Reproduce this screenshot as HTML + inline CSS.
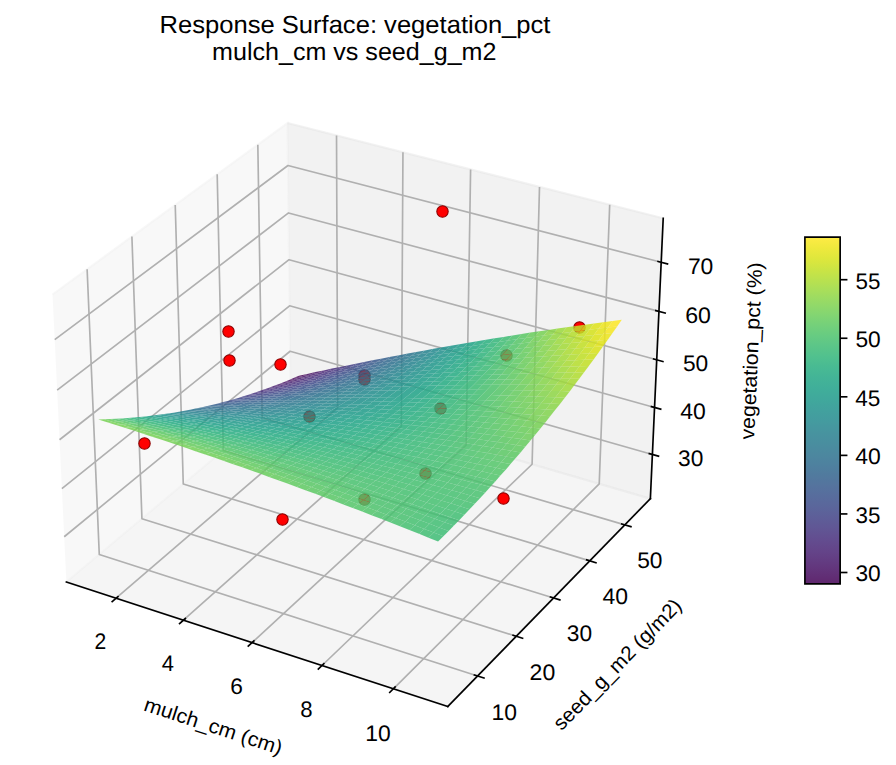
<!DOCTYPE html><html><head><meta charset="utf-8"><style>html,body{margin:0;padding:0;background:#fff;overflow:hidden}svg{display:block;text-rendering:geometricPrecision}</style></head><body><svg width="896" height="765" viewBox="0 0 430.08 367.2" version="1.1"> <defs> <style type="text/css">*{stroke-linejoin: round; stroke-linecap: butt}</style> </defs> <g> <g> <path d="M 0 367.2  L 430.08 367.2  L 430.08 0  L 0 0  z " style="fill: #ffffff"/> </g> <g> <path d="M 7.2576 359.7216  L 333.1488 359.7216  L 333.1488 33.8304  L 7.2576 33.8304  z " style="fill: #ffffff"/> </g> <g> <g> <path d="M 31.864633 279.367274  L 139.48455 189.158125  L 137.98853 59.060407  L 25.218445 141.354879  " style="fill: #f2f2f2; fill-opacity: 0.5; stroke-opacity: 0.5; stroke: #f2f2f2; stroke-linejoin: miter"/> </g> </g> <g> <g> <path d="M 139.48455 189.158125  L 312.176119 239.352746  L 318.338872 104.773961  L 137.98853 59.060407  " style="fill: #e6e6e6; fill-opacity: 0.5; stroke-opacity: 0.5; stroke: #e6e6e6; stroke-linejoin: miter"/> </g> </g> <g> <g> <path d="M 31.864633 279.367274  L 214.92613 339.155159  L 312.176119 239.352746  L 139.48455 189.158125  " style="fill: #ececec; fill-opacity: 0.5; stroke-opacity: 0.5; stroke: #ececec; stroke-linejoin: miter"/> </g> </g> <g> <g> <path d="M 55.712233 287.1559  L 162.067776 195.722177  L 161.530065 65.027499  " style="fill: none; stroke: #b0b0b0; stroke-width: 0.8"/> <path d="M 88.037407 297.713302  L 192.637596 204.607617  L 193.417799 73.110111  " style="fill: none; stroke: #b0b0b0; stroke-width: 0.8"/> <path d="M 120.982354 308.473122  L 223.744487 213.649162  L 225.890223 81.340923  " style="fill: none; stroke: #b0b0b0; stroke-width: 0.8"/> <path d="M 154.565073 319.441237  L 255.402728 222.850963  L 258.963565 89.724051  " style="fill: none; stroke: #b0b0b0; stroke-width: 0.8"/> <path d="M 188.804263 330.623757  L 287.627108 232.217318  L 292.654662 98.263762  " style="fill: none; stroke: #b0b0b0; stroke-width: 0.8"/> </g> </g> <g> <g> <path d="M 41.8174 129.241717  L 47.654292 266.132069  L 229.248182 324.45721  " style="fill: none; stroke: #b0b0b0; stroke-width: 0.8"/> <path d="M 63.312453 113.555607  L 68.127546 248.970982  L 247.790854 305.427867  " style="fill: none; stroke: #b0b0b0; stroke-width: 0.8"/> <path d="M 84.112015 98.377034  L 87.966586 232.341504  L 265.729405 287.018501  " style="fill: none; stroke: #b0b0b0; stroke-width: 0.8"/> <path d="M 104.249305 83.681757  L 107.200434 216.219312  L 283.092885 269.199298  " style="fill: none; stroke: #b0b0b0; stroke-width: 0.8"/> <path d="M 123.755458 69.447055  L 125.856365 200.58154  L 299.908512 251.942329  " style="fill: none; stroke: #b0b0b0; stroke-width: 0.8"/> </g> </g> <g> <g> <path d="M 313.147833 218.132981  L 139.248245 168.608411  L 30.81818 257.637001  " style="fill: none; stroke: #b0b0b0; stroke-width: 0.8"/> <path d="M 314.180158 195.589646  L 138.997373 146.791913  L 29.705846 234.538662  " style="fill: none; stroke: #b0b0b0; stroke-width: 0.8"/> <path d="M 315.227983 172.707829  L 138.742915 124.663626  L 28.576168 211.080164  " style="fill: none; stroke: #b0b0b0; stroke-width: 0.8"/> <path d="M 316.29166 149.479849  L 138.484795 102.216818  L 27.428737 187.253019  " style="fill: none; stroke: #b0b0b0; stroke-width: 0.8"/> <path d="M 317.371551 125.897791  L 138.222932 79.444561  L 26.263132 163.048467  " style="fill: none; stroke: #b0b0b0; stroke-width: 0.8"/> </g> </g> <g> <g> <path d="M 31.864633 279.367274  L 214.92613 339.155159  " style="fill: none; stroke: #000000; stroke-width: 0.8; stroke-linecap: square"/> </g> <g> <g> <path d="M 56.638654 286.359457  L 53.855401 288.752217  " style="fill: none; stroke: #000000; stroke-width: 0.8; stroke-linecap: square"/> </g> <g transform="translate(0.000 0.912)"> <text textLength="5.65" lengthAdjust="spacingAndGlyphs" style="font-size: 10.800px; font-family: 'Liberation Sans'; text-anchor: middle" x="48.198772" y="310.526284" transform="rotate(-0 48.198772 310.526284)">2</text> </g> </g> <g> <g> <path d="M 88.949243 296.901667  L 86.209769 299.3401  " style="fill: none; stroke: #000000; stroke-width: 0.8; stroke-linecap: square"/> </g> <g transform="translate(0.000 0.912)"> <text textLength="5.86" lengthAdjust="spacingAndGlyphs" style="font-size: 10.800px; font-family: 'Liberation Sans'; text-anchor: middle" x="80.551742" y="321.26636" transform="rotate(-0 80.551742 321.26636)">4</text> </g> </g> <g> <g> <path d="M 121.878873 307.645857  L 119.18538 310.131283  " style="fill: none; stroke: #000000; stroke-width: 0.8; stroke-linecap: square"/> </g> <g transform="translate(0.000 0.912)"> <text textLength="6.07" lengthAdjust="spacingAndGlyphs" style="font-size: 10.800px; font-family: 'Liberation Sans'; text-anchor: middle" x="113.526944" y="332.212995" transform="rotate(-0 113.526944 332.212995)">6</text> </g> </g> <g> <g> <path d="M 155.445509 318.597886  L 152.800298 321.131678  " style="fill: none; stroke: #000000; stroke-width: 0.8; stroke-linecap: square"/> </g> <g transform="translate(0.000 0.912)"> <text textLength="5.93" lengthAdjust="spacingAndGlyphs" style="font-size: 10.800px; font-family: 'Liberation Sans'; text-anchor: middle" x="147.142503" y="343.372208" transform="rotate(-0 147.142503 343.372208)">8</text> </g> </g> <g> <g> <path d="M 189.667813 329.763845  L 187.073297 332.347429  " style="fill: none; stroke: #000000; stroke-width: 0.8; stroke-linecap: square"/> </g> <g transform="translate(0.000 0.912)"> <text textLength="12.23" lengthAdjust="spacingAndGlyphs" style="font-size: 10.800px; font-family: 'Liberation Sans'; text-anchor: middle" x="181.417255" y="354.750249" transform="rotate(-0 181.417255 354.750249)">10</text> </g> </g> <g transform="translate(0.000 0.000)"> <text textLength="69.15" lengthAdjust="spacingAndGlyphs" style="font-size: 9.720px; font-family: 'Liberation Sans'; text-anchor: middle" x="101.360393" y="351.6125" transform="rotate(-341.912962 101.360393 351.6125)">mulch_cm (cm)</text> </g> </g> <g> <g> <path d="M 312.176119 239.352746  L 214.92613 339.155159  " style="fill: none; stroke: #000000; stroke-width: 0.8; stroke-linecap: square"/> </g> <g> <g> <path d="M 227.718407 323.96587  L 232.311661 325.441153  " style="fill: none; stroke: #000000; stroke-width: 0.8; stroke-linecap: square"/> </g> <g transform="translate(0.000 0.432)"> <text textLength="12.23" lengthAdjust="spacingAndGlyphs" style="font-size: 10.800px; font-family: 'Liberation Sans'; text-anchor: middle" x="242.044299" y="345.383236" transform="rotate(-0 242.044299 345.383236)">10</text> </g> </g> <g> <g> <path d="M 246.278604 304.952662  L 250.819174 306.379478  " style="fill: none; stroke: #000000; stroke-width: 0.8; stroke-linecap: square"/> </g> <g transform="translate(0.000 0.432)"> <text textLength="12.32" lengthAdjust="spacingAndGlyphs" style="font-size: 10.800px; font-family: 'Liberation Sans'; text-anchor: middle" x="260.383824" y="326.123999" transform="rotate(-0 260.383824 326.123999)">20</text> </g> </g> <g> <g> <path d="M 264.234359 286.558649  L 268.723212 287.939348  " style="fill: none; stroke: #000000; stroke-width: 0.8; stroke-linecap: square"/> </g> <g transform="translate(0.000 0.432)"> <text textLength="12.14" lengthAdjust="spacingAndGlyphs" style="font-size: 10.800px; font-family: 'Liberation Sans'; text-anchor: middle" x="278.125566" y="307.492522" transform="rotate(-0 278.125566 307.492522)">30</text> </g> </g> <g> <g> <path d="M 281.614726 268.754067  L 286.052818 270.09085  " style="fill: none; stroke: #000000; stroke-width: 0.8; stroke-linecap: square"/> </g> <g transform="translate(0.000 0.432)"> <text textLength="12.26" lengthAdjust="spacingAndGlyphs" style="font-size: 10.800px; font-family: 'Liberation Sans'; text-anchor: middle" x="295.298283" y="289.458606" transform="rotate(-0 295.298283 289.458606)">40</text> </g> </g> <g> <g> <path d="M 298.446927 251.511032  L 302.8352 252.805961  " style="fill: none; stroke: #000000; stroke-width: 0.8; stroke-linecap: square"/> </g> <g transform="translate(0.000 0.432)"> <text textLength="12.15" lengthAdjust="spacingAndGlyphs" style="font-size: 10.800px; font-family: 'Liberation Sans'; text-anchor: middle" x="311.92892" y="271.993957" transform="rotate(-0 311.92892 271.993957)">50</text> </g> </g> <g transform="translate(0.000 0.000)"> <text textLength="83.44" lengthAdjust="spacingAndGlyphs" style="font-size: 9.720px; font-family: 'Liberation Sans'; text-anchor: middle" x="298.700666" y="321.156411" transform="rotate(-45.742112 298.700666 321.156411)">seed_g_m2 (g/m2)</text> </g> </g> <g> <g> <path d="M 312.176119 239.352746  L 318.338872 104.773961  " style="fill: none; stroke: #000000; stroke-width: 0.8; stroke-linecap: square"/> </g> <g> <g> <path d="M 311.687855 217.717196  L 316.071288 218.965546  " style="fill: none; stroke: #000000; stroke-width: 0.8; stroke-linecap: square"/> </g> <g transform="translate(0.000 0.408)"> <text textLength="12.14" lengthAdjust="spacingAndGlyphs" style="font-size: 10.800px; font-family: 'Liberation Sans'; text-anchor: middle" x="331.532769" y="223.158968" transform="rotate(-0 331.532769 223.158968)">30</text> </g> </g> <g> <g> <path d="M 312.70889 195.179819  L 317.126244 196.410287  " style="fill: none; stroke: #000000; stroke-width: 0.8; stroke-linecap: square"/> </g> <g transform="translate(0.000 0.408)"> <text textLength="12.26" lengthAdjust="spacingAndGlyphs" style="font-size: 10.800px; font-family: 'Liberation Sans'; text-anchor: middle" x="332.699182" y="200.652537" transform="rotate(-0 332.699182 200.652537)">40</text> </g> </g> <g> <g> <path d="M 313.74525 172.304187  L 318.197054 173.516093  " style="fill: none; stroke: #000000; stroke-width: 0.8; stroke-linecap: square"/> </g> <g transform="translate(0.000 0.408)"> <text textLength="12.15" lengthAdjust="spacingAndGlyphs" style="font-size: 10.800px; font-family: 'Liberation Sans'; text-anchor: middle" x="333.883064" y="177.809024" transform="rotate(-0 333.883064 177.809024)">50</text> </g> </g> <g> <g> <path d="M 314.797282 149.082627  L 319.284076 150.275266  " style="fill: none; stroke: #000000; stroke-width: 0.8; stroke-linecap: square"/> </g> <g transform="translate(0.000 0.408)"> <text textLength="12.36" lengthAdjust="spacingAndGlyphs" style="font-size: 10.800px; font-family: 'Liberation Sans'; text-anchor: middle" x="335.084811" y="154.620799" transform="rotate(-0 335.084811 154.620799)">60</text> </g> </g> <g> <g> <path d="M 315.865344 125.507232  L 320.387681 126.679873  " style="fill: none; stroke: #000000; stroke-width: 0.8; stroke-linecap: square"/> </g> <g transform="translate(0.000 0.408)"> <text textLength="12.23" lengthAdjust="spacingAndGlyphs" style="font-size: 10.800px; font-family: 'Liberation Sans'; text-anchor: middle" x="336.30483" y="131.080001" transform="rotate(-0 336.30483 131.080001)">70</text> </g> </g> <g transform="translate(-0.480 1.200)"> <text textLength="85.15" lengthAdjust="spacingAndGlyphs" style="font-size: 9.720px; font-family: 'Liberation Sans'; text-anchor: middle" x="364.398143" y="167.36839" transform="rotate(-87.378092 364.398143 167.36839)">vegetation_pct (%)</text> </g> </g> <g transform="scale(0.48)"><g fill="#ff0000" stroke="#8b0000" stroke-width="1.04"><circle cx="442.5" cy="211.5" r="5.71"/><circle cx="228.5" cy="331.5" r="5.71"/><circle cx="229.5" cy="360.5" r="5.71"/><circle cx="280.5" cy="364.5" r="5.71"/><circle cx="579.5" cy="327.5" r="5.71"/><circle cx="144.5" cy="443.5" r="5.71"/><circle cx="282.5" cy="519.5" r="5.71"/><circle cx="503.5" cy="498.5" r="5.71"/><circle cx="364.5" cy="375.5" r="5.71"/><circle cx="364.5" cy="379.5" r="5.71"/><circle cx="309.5" cy="416.5" r="5.71"/><circle cx="440.5" cy="408.5" r="5.71"/><circle cx="506.5" cy="355.5" r="5.71"/><circle cx="425.5" cy="473.5" r="5.71"/><circle cx="364.5" cy="499.5" r="5.71"/></g><g fill-opacity="0.85"><path d="M294.1 377.8 299.0 375.7 307.2 373.9 302.3 376.2z" fill="#440154"/><path d="M302.3 376.2 307.2 373.9 315.4 372.1 310.5 374.5z" fill="#470d60"/><path d="M289.1 379.9 294.1 377.8 302.3 376.2 297.3 378.3z" fill="#46075a"/><path d="M310.5 374.5 315.4 372.1 323.6 370.4 318.7 372.8z" fill="#481769"/><path d="M297.3 378.3 302.3 376.2 310.5 374.5 305.5 376.8z" fill="#471164"/><path d="M284.1 381.9 289.1 379.9 297.3 378.3 292.3 380.5z" fill="#460b5e"/><path d="M318.7 372.8 323.6 370.4 331.9 368.6 327.0 371.2z" fill="#482173"/><path d="M305.5 376.8 310.5 374.5 318.7 372.8 313.8 375.3z" fill="#481c6e"/><path d="M292.3 380.5 297.3 378.3 305.5 376.8 300.6 379.1z" fill="#481769"/><path d="M279.1 383.9 284.1 381.9 292.3 380.5 287.3 382.6z" fill="#471164"/><path d="M327.0 371.2 331.9 368.6 340.2 366.9 335.3 369.6z" fill="#472c7a"/><path d="M313.8 375.3 318.7 372.8 327.0 371.2 322.1 373.8z" fill="#482576"/><path d="M300.6 379.1 305.5 376.8 313.8 375.3 308.9 377.6z" fill="#482071"/><path d="M287.3 382.6 292.3 380.5 300.6 379.1 295.6 381.3z" fill="#481b6d"/><path d="M335.3 369.6 340.2 366.9 348.5 365.2 343.7 368.0z" fill="#463480"/><path d="M274.1 385.8 279.1 383.9 287.3 382.6 282.3 384.6z" fill="#481769"/><path d="M322.1 373.8 327.0 371.2 335.3 369.6 330.4 372.3z" fill="#472f7d"/><path d="M308.9 377.6 313.8 375.3 322.1 373.8 317.2 376.2z" fill="#482979"/><path d="M295.6 381.3 300.6 379.1 308.9 377.6 303.9 380.0z" fill="#482576"/><path d="M343.7 368.0 348.5 365.2 356.9 363.5 352.0 366.4z" fill="#433e85"/><path d="M282.3 384.6 287.3 382.6 295.6 381.3 290.6 383.4z" fill="#482071"/><path d="M330.4 372.3 335.3 369.6 343.7 368.0 338.8 370.8z" fill="#453882"/><path d="M269.0 387.7 274.1 385.8 282.3 384.6 277.3 386.6z" fill="#481d6f"/><path d="M317.2 376.2 322.1 373.8 330.4 372.3 325.5 374.9z" fill="#46337f"/><path d="M303.9 380.0 308.9 377.6 317.2 376.2 312.2 378.7z" fill="#472e7c"/><path d="M352.0 366.4 356.9 363.5 365.3 361.8 360.4 364.8z" fill="#3f4788"/><path d="M290.6 383.4 295.6 381.3 303.9 380.0 298.9 382.2z" fill="#482979"/><path d="M338.8 370.8 343.7 368.0 352.0 366.4 347.1 369.3z" fill="#424086"/><path d="M277.3 386.6 282.3 384.6 290.6 383.4 285.6 385.5z" fill="#482576"/><path d="M325.5 374.9 330.4 372.3 338.8 370.8 333.8 373.5z" fill="#443b84"/><path d="M312.2 378.7 317.2 376.2 325.5 374.9 320.5 377.4z" fill="#453781"/><path d="M263.9 389.5 269.0 387.7 277.3 386.6 272.2 388.6z" fill="#482374"/><path d="M360.4 364.8 365.3 361.8 373.7 360.1 368.9 363.3z" fill="#3c4f8a"/><path d="M298.9 382.2 303.9 380.0 312.2 378.7 307.2 381.1z" fill="#46327e"/><path d="M347.1 369.3 352.0 366.4 360.4 364.8 355.6 367.8z" fill="#3e4989"/><path d="M285.6 385.5 290.6 383.4 298.9 382.2 293.9 384.5z" fill="#472e7c"/><path d="M333.8 373.5 338.8 370.8 347.1 369.3 342.2 372.1z" fill="#414487"/><path d="M320.5 377.4 325.5 374.9 333.8 373.5 328.9 376.2z" fill="#423f85"/><path d="M272.2 388.6 277.3 386.6 285.6 385.5 280.5 387.6z" fill="#472a7a"/><path d="M368.9 363.3 373.7 360.1 382.2 358.4 377.3 361.7z" fill="#38588c"/><path d="M307.2 381.1 312.2 378.7 320.5 377.4 315.6 379.9z" fill="#443a83"/><path d="M258.8 391.3 263.9 389.5 272.2 388.6 267.1 390.5z" fill="#482878"/><path d="M355.6 367.8 360.4 364.8 368.9 363.3 364.0 366.4z" fill="#3b518b"/><path d="M293.9 384.5 298.9 382.2 307.2 381.1 302.2 383.4z" fill="#453781"/><path d="M342.2 372.1 347.1 369.3 355.6 367.8 350.7 370.8z" fill="#3e4c8a"/><path d="M280.5 387.6 285.6 385.5 293.9 384.5 288.8 386.7z" fill="#46337f"/><path d="M328.9 376.2 333.8 373.5 342.2 372.1 337.3 374.9z" fill="#3f4788"/><path d="M377.3 361.7 382.2 358.4 390.6 356.8 385.8 360.2z" fill="#355f8d"/><path d="M315.6 379.9 320.5 377.4 328.9 376.2 323.9 378.8z" fill="#414287"/><path d="M267.1 390.5 272.2 388.6 280.5 387.6 275.4 389.6z" fill="#472f7d"/><path d="M364.0 366.4 368.9 363.3 377.3 361.7 372.5 365.0z" fill="#38598c"/><path d="M302.2 383.4 307.2 381.1 315.6 379.9 310.6 382.4z" fill="#433e85"/><path d="M350.7 370.8 355.6 367.8 364.0 366.4 359.1 369.5z" fill="#3a538b"/><path d="M253.7 393.0 258.8 391.3 267.1 390.5 262.0 392.3z" fill="#472e7c"/><path d="M288.8 386.7 293.9 384.5 302.2 383.4 297.2 385.7z" fill="#443a83"/><path d="M337.3 374.9 342.2 372.1 350.7 370.8 345.7 373.7z" fill="#3c4f8a"/><path d="M323.9 378.8 328.9 376.2 337.3 374.9 332.3 377.7z" fill="#3e4989"/><path d="M385.8 360.2 390.6 356.8 399.1 355.2 394.3 358.7z" fill="#31668e"/><path d="M275.4 389.6 280.5 387.6 288.8 386.7 283.7 388.8z" fill="#453882"/><path d="M372.5 365.0 377.3 361.7 385.8 360.2 380.9 363.6z" fill="#34618d"/><path d="M310.6 382.4 315.6 379.9 323.9 378.8 319.0 381.4z" fill="#404688"/><path d="M262.0 392.3 267.1 390.5 275.4 389.6 270.3 391.6z" fill="#453581"/><path d="M359.1 369.5 364.0 366.4 372.5 365.0 367.6 368.2z" fill="#375b8d"/><path d="M297.2 385.7 302.2 383.4 310.6 382.4 305.5 384.8z" fill="#414287"/><path d="M345.7 373.7 350.7 370.8 359.1 369.5 354.2 372.5z" fill="#39558c"/><path d="M248.5 394.7 253.7 393.0 262.0 392.3 256.8 394.1z" fill="#46337f"/><path d="M332.3 377.7 337.3 374.9 345.7 373.7 340.8 376.6z" fill="#3b518b"/><path d="M283.7 388.8 288.8 386.7 297.2 385.7 292.1 388.0z" fill="#423f85"/><path d="M394.3 358.7 399.1 355.2 407.7 353.6 402.9 357.2z" fill="#2e6e8e"/><path d="M380.9 363.6 385.8 360.2 394.3 358.7 389.5 362.2z" fill="#31688e"/><path d="M319.0 381.4 323.9 378.8 332.3 377.7 327.4 380.4z" fill="#3d4d8a"/><path d="M270.3 391.6 275.4 389.6 283.7 388.8 278.7 390.9z" fill="#433d84"/><path d="M367.6 368.2 372.5 365.0 380.9 363.6 376.1 366.9z" fill="#33628d"/><path d="M305.5 384.8 310.6 382.4 319.0 381.4 313.9 383.9z" fill="#3e4989"/><path d="M354.2 372.5 359.1 369.5 367.6 368.2 362.7 371.4z" fill="#365d8d"/><path d="M256.8 394.1 262.0 392.3 270.3 391.6 265.2 393.5z" fill="#443a83"/><path d="M292.1 388.0 297.2 385.7 305.5 384.8 300.5 387.2z" fill="#404688"/><path d="M340.8 376.6 345.7 373.7 354.2 372.5 349.3 375.5z" fill="#38598c"/><path d="M402.9 357.2 407.7 353.6 416.2 352.0 411.4 355.7z" fill="#2b748e"/><path d="M243.4 396.3 248.5 394.7 256.8 394.1 251.7 395.8z" fill="#443983"/><path d="M389.5 362.2 394.3 358.7 402.9 357.2 398.0 360.8z" fill="#2e6f8e"/><path d="M327.4 380.4 332.3 377.7 340.8 376.6 335.8 379.4z" fill="#3a548c"/><path d="M278.7 390.9 283.7 388.8 292.1 388.0 287.0 390.2z" fill="#414487"/><path d="M376.1 366.9 380.9 363.6 389.5 362.2 384.6 365.6z" fill="#30698e"/><path d="M313.9 383.9 319.0 381.4 327.4 380.4 322.4 383.1z" fill="#3c508b"/><path d="M362.7 371.4 367.6 368.2 376.1 366.9 371.2 370.2z" fill="#32648e"/><path d="M265.2 393.5 270.3 391.6 278.7 390.9 273.5 392.9z" fill="#424186"/><path d="M300.5 387.2 305.5 384.8 313.9 383.9 308.9 386.4z" fill="#3d4d8a"/><path d="M349.3 375.5 354.2 372.5 362.7 371.4 357.8 374.5z" fill="#355f8d"/><path d="M411.4 355.7 416.2 352.0 424.8 350.4 420.0 354.3z" fill="#297b8e"/><path d="M251.7 395.8 256.8 394.1 265.2 393.5 260.0 395.4z" fill="#424086"/><path d="M335.8 379.4 340.8 376.6 349.3 375.5 344.3 378.5z" fill="#375b8d"/><path d="M398.0 360.8 402.9 357.2 411.4 355.7 406.6 359.5z" fill="#2b758e"/><path d="M287.0 390.2 292.1 388.0 300.5 387.2 295.4 389.5z" fill="#3e4a89"/><path d="M384.6 365.6 389.5 362.2 398.0 360.8 393.2 364.4z" fill="#2d708e"/><path d="M322.4 383.1 327.4 380.4 335.8 379.4 330.8 382.2z" fill="#39568c"/><path d="M238.2 397.9 243.4 396.3 251.7 395.8 246.5 397.5z" fill="#423f85"/><path d="M273.5 392.9 278.7 390.9 287.0 390.2 281.9 392.3z" fill="#3f4889"/><path d="M371.2 370.2 376.1 366.9 384.6 365.6 379.7 369.0z" fill="#2f6b8e"/><path d="M308.9 386.4 313.9 383.9 322.4 383.1 317.4 385.7z" fill="#3a538b"/><path d="M357.8 374.5 362.7 371.4 371.2 370.2 366.3 373.4z" fill="#31668e"/><path d="M260.0 395.4 265.2 393.5 273.5 392.9 268.4 394.9z" fill="#404688"/><path d="M420.0 354.3 424.8 350.4 433.5 348.8 428.7 352.8z" fill="#26828e"/><path d="M344.3 378.5 349.3 375.5 357.8 374.5 352.8 377.5z" fill="#34618d"/><path d="M295.4 389.5 300.5 387.2 308.9 386.4 303.9 388.9z" fill="#3b518b"/><path d="M406.6 359.5 411.4 355.7 420.0 354.3 415.2 358.1z" fill="#287c8e"/><path d="M393.2 364.4 398.0 360.8 406.6 359.5 401.8 363.2z" fill="#2a768e"/><path d="M330.8 382.2 335.8 379.4 344.3 378.5 339.3 381.4z" fill="#355e8d"/><path d="M246.5 397.5 251.7 395.8 260.0 395.4 254.8 397.2z" fill="#404588"/><path d="M281.9 392.3 287.0 390.2 295.4 389.5 290.3 391.8z" fill="#3d4e8a"/><path d="M379.7 369.0 384.6 365.6 393.2 364.4 388.3 367.9z" fill="#2d718e"/><path d="M317.4 385.7 322.4 383.1 330.8 382.2 325.8 384.9z" fill="#375a8c"/><path d="M366.3 373.4 371.2 370.2 379.7 369.0 374.8 372.4z" fill="#2f6c8e"/><path d="M232.9 399.4 238.2 397.9 246.5 397.5 241.3 399.2z" fill="#404588"/><path d="M268.4 394.9 273.5 392.9 281.9 392.3 276.8 394.4z" fill="#3d4d8a"/><path d="M428.7 352.8 433.5 348.8 442.1 347.3 437.4 351.4z" fill="#23898e"/><path d="M352.8 377.5 357.8 374.5 366.3 373.4 361.3 376.6z" fill="#31688e"/><path d="M303.9 388.9 308.9 386.4 317.4 385.7 312.3 388.2z" fill="#39568c"/><path d="M415.2 358.1 420.0 354.3 428.7 352.8 423.9 356.8z" fill="#26828e"/><path d="M401.8 363.2 406.6 359.5 415.2 358.1 410.4 361.9z" fill="#287d8e"/><path d="M254.8 397.2 260.0 395.4 268.4 394.9 263.2 396.8z" fill="#3e4c8a"/><path d="M339.3 381.4 344.3 378.5 352.8 377.5 347.8 380.5z" fill="#32648e"/><path d="M290.3 391.8 295.4 389.5 303.9 388.9 298.8 391.3z" fill="#3a548c"/><path d="M388.3 367.9 393.2 364.4 401.8 363.2 396.9 366.8z" fill="#2a778e"/><path d="M325.8 384.9 330.8 382.2 339.3 381.4 334.3 384.2z" fill="#34608d"/><path d="M374.8 372.4 379.7 369.0 388.3 367.9 383.4 371.4z" fill="#2c728e"/><path d="M241.3 399.2 246.5 397.5 254.8 397.2 249.6 398.9z" fill="#3e4a89"/><path d="M276.8 394.4 281.9 392.3 290.3 391.8 285.2 394.0z" fill="#3b528b"/><path d="M437.4 351.4 442.1 347.3 450.8 345.7 446.0 350.0z" fill="#21908d"/><path d="M312.3 388.2 317.4 385.7 325.8 384.9 320.8 387.6z" fill="#365d8d"/><path d="M361.3 376.6 366.3 373.4 374.8 372.4 369.9 375.7z" fill="#2e6e8e"/><path d="M423.9 356.8 428.7 352.8 437.4 351.4 432.6 355.5z" fill="#23898e"/><path d="M263.2 396.8 268.4 394.9 276.8 394.4 271.6 396.5z" fill="#3b518b"/><path d="M227.7 400.9 232.9 399.4 241.3 399.2 236.0 400.8z" fill="#3e4a89"/><path d="M347.8 380.5 352.8 377.5 361.3 376.6 356.4 379.8z" fill="#306a8e"/><path d="M410.4 361.9 415.2 358.1 423.9 356.8 419.1 360.7z" fill="#25838e"/><path d="M298.8 391.3 303.9 388.9 312.3 388.2 307.2 390.7z" fill="#375b8d"/><path d="M396.9 366.8 401.8 363.2 410.4 361.9 405.5 365.7z" fill="#277e8e"/><path d="M334.3 384.2 339.3 381.4 347.8 380.5 342.9 383.5z" fill="#31668e"/><path d="M249.6 398.9 254.8 397.2 263.2 396.8 258.0 398.7z" fill="#3c508b"/><path d="M383.4 371.4 388.3 367.9 396.9 366.8 392.0 370.4z" fill="#2a788e"/><path d="M285.2 394.0 290.3 391.8 298.8 391.3 293.7 393.6z" fill="#38598c"/><path d="M320.8 387.6 325.8 384.9 334.3 384.2 329.3 387.0z" fill="#33638d"/><path d="M369.9 375.7 374.8 372.4 383.4 371.4 378.5 374.8z" fill="#2c738e"/><path d="M446.0 350.0 450.8 345.7 459.5 344.2 454.8 348.6z" fill="#1f968b"/><path d="M432.6 355.5 437.4 351.4 446.0 350.0 441.3 354.2z" fill="#21908d"/><path d="M236.0 400.8 241.3 399.2 249.6 398.9 244.4 400.6z" fill="#3c508b"/><path d="M271.6 396.5 276.8 394.4 285.2 394.0 280.1 396.2z" fill="#39568c"/><path d="M356.4 379.8 361.3 376.6 369.9 375.7 365.0 379.0z" fill="#2d708e"/><path d="M307.2 390.7 312.3 388.2 320.8 387.6 315.7 390.2z" fill="#34608d"/><path d="M419.1 360.7 423.9 356.8 432.6 355.5 427.7 359.6z" fill="#23898e"/><path d="M405.5 365.7 410.4 361.9 419.1 360.7 414.2 364.6z" fill="#25838e"/><path d="M342.9 383.5 347.8 380.5 356.4 379.8 351.4 382.8z" fill="#2f6c8e"/><path d="M258.0 398.7 263.2 396.8 271.6 396.5 266.5 398.5z" fill="#39558c"/><path d="M222.4 402.3 227.7 400.9 236.0 400.8 230.7 402.3z" fill="#3c508b"/><path d="M293.7 393.6 298.8 391.3 307.2 390.7 302.1 393.2z" fill="#355e8d"/><path d="M392.0 370.4 396.9 366.8 405.5 365.7 400.7 369.4z" fill="#277f8e"/><path d="M329.3 387.0 334.3 384.2 342.9 383.5 337.8 386.4z" fill="#30698e"/><path d="M378.5 374.8 383.4 371.4 392.0 370.4 387.1 374.0z" fill="#297a8e"/><path d="M454.8 348.6 459.5 344.2 468.3 342.7 463.5 347.2z" fill="#1e9d89"/><path d="M244.4 400.6 249.6 398.9 258.0 398.7 252.8 400.5z" fill="#39558c"/><path d="M280.1 396.2 285.2 394.0 293.7 393.6 288.5 395.9z" fill="#365c8d"/><path d="M441.3 354.2 446.0 350.0 454.8 348.6 450.0 352.9z" fill="#1f968b"/><path d="M365.0 379.0 369.9 375.7 378.5 374.8 373.6 378.2z" fill="#2b758e"/><path d="M315.7 390.2 320.8 387.6 329.3 387.0 324.3 389.8z" fill="#31668e"/><path d="M427.7 359.6 432.6 355.5 441.3 354.2 436.4 358.4z" fill="#21908d"/><path d="M414.2 364.6 419.1 360.7 427.7 359.6 422.9 363.6z" fill="#238a8d"/><path d="M351.4 382.8 356.4 379.8 365.0 379.0 360.0 382.2z" fill="#2c718e"/><path d="M266.5 398.5 271.6 396.5 280.1 396.2 274.9 398.3z" fill="#375b8d"/><path d="M230.7 402.3 236.0 400.8 244.4 400.6 239.1 402.3z" fill="#39558c"/><path d="M302.1 393.2 307.2 390.7 315.7 390.2 310.7 392.8z" fill="#33638d"/><path d="M400.7 369.4 405.5 365.7 414.2 364.6 409.3 368.5z" fill="#25848e"/><path d="M337.8 386.4 342.9 383.5 351.4 382.8 346.4 385.9z" fill="#2e6e8e"/><path d="M387.1 374.0 392.0 370.4 400.7 369.4 395.8 373.1z" fill="#27808e"/><path d="M252.8 400.5 258.0 398.7 266.5 398.5 261.2 400.4z" fill="#375b8d"/><path d="M288.5 395.9 293.7 393.6 302.1 393.2 297.0 395.6z" fill="#33628d"/><path d="M463.5 347.2 468.3 342.7 477.1 341.2 472.3 345.9z" fill="#20a386"/><path d="M217.0 403.7 222.4 402.3 230.7 402.3 225.4 403.8z" fill="#39558c"/><path d="M450.0 352.9 454.8 348.6 463.5 347.2 458.8 351.7z" fill="#1e9d89"/><path d="M324.3 389.8 329.3 387.0 337.8 386.4 332.8 389.3z" fill="#2f6b8e"/><path d="M373.6 378.2 378.5 374.8 387.1 374.0 382.2 377.5z" fill="#297b8e"/><path d="M436.4 358.4 441.3 354.2 450.0 352.9 445.2 357.3z" fill="#1f968b"/><path d="M274.9 398.3 280.1 396.2 288.5 395.9 283.4 398.1z" fill="#34608d"/><path d="M239.1 402.3 244.4 400.6 252.8 400.5 247.6 402.3z" fill="#375a8c"/><path d="M360.0 382.2 365.0 379.0 373.6 378.2 368.6 381.6z" fill="#2a778e"/><path d="M422.9 363.6 427.7 359.6 436.4 358.4 431.6 362.5z" fill="#21908d"/><path d="M310.7 392.8 315.7 390.2 324.3 389.8 319.2 392.5z" fill="#30698e"/><path d="M409.3 368.5 414.2 364.6 422.9 363.6 418.0 367.6z" fill="#238a8d"/><path d="M346.4 385.9 351.4 382.8 360.0 382.2 355.0 385.4z" fill="#2c738e"/><path d="M261.2 400.4 266.5 398.5 274.9 398.3 269.7 400.4z" fill="#355f8d"/><path d="M395.8 373.1 400.7 369.4 409.3 368.5 404.5 372.3z" fill="#25858e"/><path d="M297.0 395.6 302.1 393.2 310.7 392.8 305.6 395.4z" fill="#31678e"/><path d="M225.4 403.8 230.7 402.3 239.1 402.3 233.8 403.9z" fill="#375b8d"/><path d="M472.3 345.9 477.1 341.2 485.9 339.7 481.1 344.5z" fill="#24aa83"/><path d="M332.8 389.3 337.8 386.4 346.4 385.9 341.4 388.9z" fill="#2d718e"/><path d="M382.2 377.5 387.1 374.0 395.8 373.1 390.9 376.7z" fill="#26818e"/><path d="M458.8 351.7 463.5 347.2 472.3 345.9 467.6 350.5z" fill="#20a386"/><path d="M445.2 357.3 450.0 352.9 458.8 351.7 454.0 356.1z" fill="#1e9d89"/><path d="M283.4 398.1 288.5 395.9 297.0 395.6 291.9 398.0z" fill="#32658e"/><path d="M247.6 402.3 252.8 400.5 261.2 400.4 256.0 402.3z" fill="#355f8d"/><path d="M368.6 381.6 373.6 378.2 382.2 377.5 377.3 380.9z" fill="#287d8e"/><path d="M431.6 362.5 436.4 358.4 445.2 357.3 440.4 361.5z" fill="#1f968b"/><path d="M319.2 392.5 324.3 389.8 332.8 389.3 327.8 392.2z" fill="#2e6e8e"/><path d="M211.7 405.0 217.0 403.7 225.4 403.8 220.1 405.2z" fill="#365c8d"/><path d="M418.0 367.6 422.9 363.6 431.6 362.5 426.8 366.6z" fill="#21918c"/><path d="M355.0 385.4 360.0 382.2 368.6 381.6 363.6 384.8z" fill="#29798e"/><path d="M269.7 400.4 274.9 398.3 283.4 398.1 278.2 400.3z" fill="#32648e"/><path d="M305.6 395.4 310.7 392.8 319.2 392.5 314.1 395.1z" fill="#2f6c8e"/><path d="M233.8 403.9 239.1 402.3 247.6 402.3 242.3 404.0z" fill="#355f8d"/><path d="M404.5 372.3 409.3 368.5 418.0 367.6 413.2 371.5z" fill="#228b8d"/><path d="M341.4 388.9 346.4 385.9 355.0 385.4 350.0 388.5z" fill="#2b758e"/><path d="M481.1 344.5 485.9 339.7 494.7 338.3 490.0 343.2z" fill="#2ab07f"/><path d="M390.9 376.7 395.8 373.1 404.5 372.3 399.6 376.0z" fill="#24868e"/><path d="M467.6 350.5 472.3 345.9 481.1 344.5 476.4 349.2z" fill="#23a983"/><path d="M256.0 402.3 261.2 400.4 269.7 400.4 264.5 402.4z" fill="#32648e"/><path d="M291.9 398.0 297.0 395.6 305.6 395.4 300.4 397.9z" fill="#306a8e"/><path d="M454.0 356.1 458.8 351.7 467.6 350.5 462.8 355.0z" fill="#1fa287"/><path d="M377.3 380.9 382.2 377.5 390.9 376.7 385.9 380.3z" fill="#26828e"/><path d="M220.1 405.2 225.4 403.8 233.8 403.9 228.5 405.5z" fill="#34608d"/><path d="M327.8 392.2 332.8 389.3 341.4 388.9 336.3 391.9z" fill="#2c728e"/><path d="M440.4 361.5 445.2 357.3 454.0 356.1 449.2 360.5z" fill="#1e9c89"/><path d="M426.8 366.6 431.6 362.5 440.4 361.5 435.5 365.7z" fill="#1f968b"/><path d="M363.6 384.8 368.6 381.6 377.3 380.9 372.3 384.4z" fill="#277e8e"/><path d="M278.2 400.3 283.4 398.1 291.9 398.0 286.7 400.3z" fill="#30698e"/><path d="M242.3 404.0 247.6 402.3 256.0 402.3 250.8 404.2z" fill="#32648e"/><path d="M314.1 395.1 319.2 392.5 327.8 392.2 322.7 394.9z" fill="#2d718e"/><path d="M413.2 371.5 418.0 367.6 426.8 366.6 421.9 370.7z" fill="#21918c"/><path d="M206.3 406.3 211.7 405.0 220.1 405.2 214.7 406.6z" fill="#34618d"/><path d="M350.0 388.5 355.0 385.4 363.6 384.8 358.6 388.1z" fill="#297b8e"/><path d="M490.0 343.2 494.7 338.3 503.6 336.9 498.9 341.9z" fill="#34b679"/><path d="M399.6 376.0 404.5 372.3 413.2 371.5 408.3 375.4z" fill="#228c8d"/><path d="M264.5 402.4 269.7 400.4 278.2 400.3 273.0 402.5z" fill="#31688e"/><path d="M476.4 349.2 481.1 344.5 490.0 343.2 485.2 348.0z" fill="#29af7f"/><path d="M300.4 397.9 305.6 395.4 314.1 395.1 309.0 397.8z" fill="#2e6f8e"/><path d="M228.5 405.5 233.8 403.9 242.3 404.0 237.0 405.7z" fill="#32648e"/><path d="M462.8 355.0 467.6 350.5 476.4 349.2 471.6 353.9z" fill="#23a983"/><path d="M336.3 391.9 341.4 388.9 350.0 388.5 345.0 391.6z" fill="#2a788e"/><path d="M385.9 380.3 390.9 376.7 399.6 376.0 394.6 379.8z" fill="#24878e"/><path d="M449.2 360.5 454.0 356.1 462.8 355.0 458.0 359.5z" fill="#1fa287"/><path d="M286.7 400.3 291.9 398.0 300.4 397.9 295.3 400.3z" fill="#2e6e8e"/><path d="M435.5 365.7 440.4 361.5 449.2 360.5 444.3 364.9z" fill="#1e9c89"/><path d="M372.3 384.4 377.3 380.9 385.9 380.3 381.0 383.9z" fill="#25838e"/><path d="M250.8 404.2 256.0 402.3 264.5 402.4 259.2 404.4z" fill="#31688e"/><path d="M322.7 394.9 327.8 392.2 336.3 391.9 331.3 394.8z" fill="#2b758e"/><path d="M421.9 370.7 426.8 366.6 435.5 365.7 430.7 369.9z" fill="#1f968b"/><path d="M214.7 406.6 220.1 405.2 228.5 405.5 223.2 407.0z" fill="#32658e"/><path d="M358.6 388.1 363.6 384.8 372.3 384.4 367.3 387.7z" fill="#27808e"/><path d="M408.3 375.4 413.2 371.5 421.9 370.7 417.0 374.7z" fill="#20928c"/><path d="M273.0 402.5 278.2 400.3 286.7 400.3 281.5 402.6z" fill="#2e6d8e"/><path d="M498.9 341.9 503.6 336.9 512.5 335.4 507.8 340.6z" fill="#3fbc73"/><path d="M309.0 397.8 314.1 395.1 322.7 394.9 317.6 397.7z" fill="#2c738e"/><path d="M237.0 405.7 242.3 404.0 250.8 404.2 245.5 406.0z" fill="#31688e"/><path d="M485.2 348.0 490.0 343.2 498.9 341.9 494.1 346.9z" fill="#32b67a"/><path d="M345.0 391.6 350.0 388.5 358.6 388.1 353.6 391.3z" fill="#287d8e"/><path d="M471.6 353.9 476.4 349.2 485.2 348.0 480.5 352.8z" fill="#28ae80"/><path d="M394.6 379.8 399.6 376.0 408.3 375.4 403.4 379.2z" fill="#228d8d"/><path d="M200.9 407.5 206.3 406.3 214.7 406.6 209.4 407.9z" fill="#31678e"/><path d="M458.0 359.5 462.8 355.0 471.6 353.9 466.8 358.6z" fill="#22a884"/><path d="M295.3 400.3 300.4 397.9 309.0 397.8 303.8 400.3z" fill="#2c718e"/><path d="M259.2 404.4 264.5 402.4 273.0 402.5 267.8 404.6z" fill="#2f6c8e"/><path d="M381.0 383.9 385.9 380.3 394.6 379.8 389.7 383.4z" fill="#23888e"/><path d="M444.3 364.9 449.2 360.5 458.0 359.5 453.1 364.0z" fill="#1fa187"/><path d="M331.3 394.8 336.3 391.9 345.0 391.6 339.9 394.6z" fill="#297a8e"/><path d="M223.2 407.0 228.5 405.5 237.0 405.7 231.7 407.3z" fill="#30698e"/><path d="M430.7 369.9 435.5 365.7 444.3 364.9 439.5 369.2z" fill="#1e9c89"/><path d="M367.3 387.7 372.3 384.4 381.0 383.9 376.0 387.4z" fill="#25848e"/><path d="M281.5 402.6 286.7 400.3 295.3 400.3 290.1 402.7z" fill="#2d718e"/><path d="M417.0 374.7 421.9 370.7 430.7 369.9 425.8 374.0z" fill="#1f968b"/><path d="M317.6 397.7 322.7 394.9 331.3 394.8 326.2 397.6z" fill="#2a788e"/><path d="M245.5 406.0 250.8 404.2 259.2 404.4 254.0 406.3z" fill="#2e6d8e"/><path d="M507.8 340.6 512.5 335.4 521.5 334.0 516.7 339.3z" fill="#4cc26c"/><path d="M494.1 346.9 498.9 341.9 507.8 340.6 503.0 345.7z" fill="#3dbc74"/><path d="M353.6 391.3 358.6 388.1 367.3 387.7 362.3 391.1z" fill="#26828e"/><path d="M403.4 379.2 408.3 375.4 417.0 374.7 412.1 378.7z" fill="#20928c"/><path d="M209.4 407.9 214.7 406.6 223.2 407.0 217.8 408.4z" fill="#2f6b8e"/><path d="M480.5 352.8 485.2 348.0 494.1 346.9 489.4 351.8z" fill="#31b57b"/><path d="M466.8 358.6 471.6 353.9 480.5 352.8 475.7 357.6z" fill="#27ad81"/><path d="M303.8 400.3 309.0 397.8 317.6 397.7 312.4 400.4z" fill="#2a768e"/><path d="M267.8 404.6 273.0 402.5 281.5 402.6 276.3 404.8z" fill="#2d718e"/><path d="M389.7 383.4 394.6 379.8 403.4 379.2 398.4 383.0z" fill="#218e8d"/><path d="M339.9 394.6 345.0 391.6 353.6 391.3 348.6 394.5z" fill="#277f8e"/><path d="M231.7 407.3 237.0 405.7 245.5 406.0 240.2 407.7z" fill="#2e6d8e"/><path d="M453.1 364.0 458.0 359.5 466.8 358.6 462.0 363.2z" fill="#22a785"/><path d="M439.5 369.2 444.3 364.9 453.1 364.0 448.3 368.4z" fill="#1fa187"/><path d="M376.0 387.4 381.0 383.9 389.7 383.4 384.7 387.0z" fill="#238a8d"/><path d="M195.5 408.6 200.9 407.5 209.4 407.9 203.9 409.2z" fill="#2f6c8e"/><path d="M290.1 402.7 295.3 400.3 303.8 400.3 298.7 402.8z" fill="#2b758e"/><path d="M254.0 406.3 259.2 404.4 267.8 404.6 262.5 406.6z" fill="#2d718e"/><path d="M326.2 397.6 331.3 394.8 339.9 394.6 334.8 397.6z" fill="#287c8e"/><path d="M425.8 374.0 430.7 369.9 439.5 369.2 434.6 373.4z" fill="#1e9c89"/><path d="M516.7 339.3 521.5 334.0 530.4 332.6 525.7 338.1z" fill="#5ac864"/><path d="M217.8 408.4 223.2 407.0 231.7 407.3 226.3 408.9z" fill="#2e6e8e"/><path d="M362.3 391.1 367.3 387.7 376.0 387.4 371.0 390.8z" fill="#24868e"/><path d="M503.0 345.7 507.8 340.6 516.7 339.3 512.0 344.5z" fill="#48c16e"/><path d="M412.1 378.7 417.0 374.7 425.8 374.0 420.9 378.1z" fill="#1f978b"/><path d="M489.4 351.8 494.1 346.9 503.0 345.7 498.3 350.8z" fill="#3aba76"/><path d="M276.3 404.8 281.5 402.6 290.1 402.7 284.9 405.0z" fill="#2b748e"/><path d="M312.4 400.4 317.6 397.7 326.2 397.6 321.1 400.4z" fill="#297b8e"/><path d="M475.7 357.6 480.5 352.8 489.4 351.8 484.6 356.7z" fill="#2fb47c"/><path d="M240.2 407.7 245.5 406.0 254.0 406.3 248.7 408.2z" fill="#2d718e"/><path d="M398.4 383.0 403.4 379.2 412.1 378.7 407.2 382.6z" fill="#20928c"/><path d="M348.6 394.5 353.6 391.3 362.3 391.1 357.3 394.3z" fill="#25838e"/><path d="M462.0 363.2 466.8 358.6 475.7 357.6 470.9 362.3z" fill="#27ad81"/><path d="M203.9 409.2 209.4 407.9 217.8 408.4 212.4 409.8z" fill="#2d708e"/><path d="M448.3 368.4 453.1 364.0 462.0 363.2 457.2 367.7z" fill="#22a785"/><path d="M384.7 387.0 389.7 383.4 398.4 383.0 393.5 386.7z" fill="#218f8d"/><path d="M298.7 402.8 303.8 400.3 312.4 400.4 307.3 403.0z" fill="#29798e"/><path d="M262.5 406.6 267.8 404.6 276.3 404.8 271.1 407.0z" fill="#2b748e"/><path d="M334.8 397.6 339.9 394.6 348.6 394.5 343.5 397.6z" fill="#26818e"/><path d="M434.6 373.4 439.5 369.2 448.3 368.4 443.4 372.8z" fill="#1fa187"/><path d="M226.3 408.9 231.7 407.3 240.2 407.7 234.8 409.4z" fill="#2c718e"/><path d="M371.0 390.8 376.0 387.4 384.7 387.0 379.7 390.6z" fill="#228b8d"/><path d="M525.7 338.1 530.4 332.6 539.4 331.3 534.7 336.8z" fill="#69cd5b"/><path d="M420.9 378.1 425.8 374.0 434.6 373.4 429.7 377.6z" fill="#1e9c89"/><path d="M512.0 344.5 516.7 339.3 525.7 338.1 521.0 343.4z" fill="#56c667"/><path d="M284.9 405.0 290.1 402.7 298.7 402.8 293.5 405.3z" fill="#2a788e"/><path d="M321.1 400.4 326.2 397.6 334.8 397.6 329.7 400.5z" fill="#277f8e"/><path d="M498.3 350.8 503.0 345.7 512.0 344.5 507.2 349.7z" fill="#46c06f"/><path d="M190.0 409.7 195.5 408.6 203.9 409.2 198.5 410.4z" fill="#2c718e"/><path d="M248.7 408.2 254.0 406.3 262.5 406.6 257.2 408.6z" fill="#2b748e"/><path d="M357.3 394.3 362.3 391.1 371.0 390.8 366.0 394.2z" fill="#23888e"/><path d="M484.6 356.7 489.4 351.8 498.3 350.8 493.5 355.8z" fill="#38b977"/><path d="M407.2 382.6 412.1 378.7 420.9 378.1 416.0 382.2z" fill="#1f978b"/><path d="M470.9 362.3 475.7 357.6 484.6 356.7 479.8 361.5z" fill="#2eb37c"/><path d="M212.4 409.8 217.8 408.4 226.3 408.9 220.9 410.4z" fill="#2c738e"/><path d="M307.3 403.0 312.4 400.4 321.1 400.4 315.9 403.2z" fill="#287d8e"/><path d="M393.5 386.7 398.4 383.0 407.2 382.6 402.2 386.5z" fill="#20938c"/><path d="M271.1 407.0 276.3 404.8 284.9 405.0 279.7 407.3z" fill="#2a788e"/><path d="M457.2 367.7 462.0 363.2 470.9 362.3 466.0 367.0z" fill="#26ad81"/><path d="M343.5 397.6 348.6 394.5 357.3 394.3 352.2 397.6z" fill="#25858e"/><path d="M234.8 409.4 240.2 407.7 248.7 408.2 243.4 410.0z" fill="#2b758e"/><path d="M443.4 372.8 448.3 368.4 457.2 367.7 452.3 372.2z" fill="#22a785"/><path d="M379.7 390.6 384.7 387.0 393.5 386.7 388.5 390.4z" fill="#21908d"/><path d="M293.5 405.3 298.7 402.8 307.3 403.0 302.1 405.6z" fill="#287c8e"/><path d="M429.7 377.6 434.6 373.4 443.4 372.8 438.6 377.2z" fill="#1fa187"/><path d="M329.7 400.5 334.8 397.6 343.5 397.6 338.4 400.6z" fill="#25838e"/><path d="M534.7 336.8 539.4 331.3 548.5 329.9 543.7 335.6z" fill="#77d153"/><path d="M198.5 410.4 203.9 409.2 212.4 409.8 207.0 411.1z" fill="#2b758e"/><path d="M257.2 408.6 262.5 406.6 271.1 407.0 265.8 409.1z" fill="#2a788e"/><path d="M521.0 343.4 525.7 338.1 534.7 336.8 530.0 342.3z" fill="#63cb5f"/><path d="M507.2 349.7 512.0 344.5 521.0 343.4 516.2 348.7z" fill="#52c569"/><path d="M366.0 394.2 371.0 390.8 379.7 390.6 374.7 394.2z" fill="#228d8d"/><path d="M416.0 382.2 420.9 378.1 429.7 377.6 424.8 381.8z" fill="#1e9d89"/><path d="M493.5 355.8 498.3 350.8 507.2 349.7 502.5 354.9z" fill="#42be71"/><path d="M220.9 410.4 226.3 408.9 234.8 409.4 229.4 411.1z" fill="#2a768e"/><path d="M479.8 361.5 484.6 356.7 493.5 355.8 488.7 360.8z" fill="#37b878"/><path d="M315.9 403.2 321.1 400.4 329.7 400.5 324.6 403.4z" fill="#26828e"/><path d="M279.7 407.3 284.9 405.0 293.5 405.3 288.3 407.7z" fill="#287c8e"/><path d="M402.2 386.5 407.2 382.6 416.0 382.2 411.0 386.2z" fill="#1f988b"/><path d="M352.2 397.6 357.3 394.3 366.0 394.2 360.9 397.6z" fill="#238a8d"/><path d="M466.0 367.0 470.9 362.3 479.8 361.5 475.0 366.4z" fill="#2db27d"/><path d="M243.4 410.0 248.7 408.2 257.2 408.6 251.9 410.6z" fill="#29798e"/><path d="M184.5 410.7 190.0 409.7 198.5 410.4 193.0 411.6z" fill="#2a778e"/><path d="M452.3 372.2 457.2 367.7 466.0 367.0 461.2 371.7z" fill="#25ac82"/><path d="M388.5 390.4 393.5 386.7 402.2 386.5 397.3 390.3z" fill="#1f948c"/><path d="M302.1 405.6 307.3 403.0 315.9 403.2 310.8 405.9z" fill="#26818e"/><path d="M207.0 411.1 212.4 409.8 220.9 410.4 215.5 411.9z" fill="#2a788e"/><path d="M338.4 400.6 343.5 397.6 352.2 397.6 347.1 400.8z" fill="#24878e"/><path d="M265.8 409.1 271.1 407.0 279.7 407.3 274.4 409.6z" fill="#287c8e"/><path d="M438.6 377.2 443.4 372.8 452.3 372.2 447.4 376.7z" fill="#21a685"/><path d="M543.7 335.6 548.5 329.9 557.5 328.6 552.8 334.4z" fill="#89d548"/><path d="M530.0 342.3 534.7 336.8 543.7 335.6 539.0 341.2z" fill="#73d056"/><path d="M374.7 394.2 379.7 390.6 388.5 390.4 383.5 394.1z" fill="#21918c"/><path d="M516.2 348.7 521.0 343.4 530.0 342.3 525.2 347.7z" fill="#5ec962"/><path d="M229.4 411.1 234.8 409.4 243.4 410.0 238.0 411.7z" fill="#297a8e"/><path d="M424.8 381.8 429.7 377.6 438.6 377.2 433.7 381.5z" fill="#1fa187"/><path d="M502.5 354.9 507.2 349.7 516.2 348.7 511.5 354.0z" fill="#4ec36b"/><path d="M324.6 403.4 329.7 400.5 338.4 400.6 333.3 403.6z" fill="#25858e"/><path d="M288.3 407.7 293.5 405.3 302.1 405.6 296.9 408.1z" fill="#27808e"/><path d="M488.7 360.8 493.5 355.8 502.5 354.9 497.7 360.0z" fill="#40bd72"/><path d="M411.0 386.2 416.0 382.2 424.8 381.8 419.9 385.9z" fill="#1e9d89"/><path d="M360.9 397.6 366.0 394.2 374.7 394.2 369.7 397.6z" fill="#218e8d"/><path d="M251.9 410.6 257.2 408.6 265.8 409.1 260.5 411.2z" fill="#287c8e"/><path d="M193.0 411.6 198.5 410.4 207.0 411.1 201.5 412.4z" fill="#297a8e"/><path d="M475.0 366.4 479.8 361.5 488.7 360.8 483.9 365.7z" fill="#35b779"/><path d="M461.2 371.7 466.0 367.0 475.0 366.4 470.1 371.1z" fill="#2cb17e"/><path d="M397.3 390.3 402.2 386.5 411.0 386.2 406.1 390.1z" fill="#1f998a"/><path d="M215.5 411.9 220.9 410.4 229.4 411.1 224.0 412.7z" fill="#297b8e"/><path d="M310.8 405.9 315.9 403.2 324.6 403.4 319.5 406.3z" fill="#25848e"/><path d="M274.4 409.6 279.7 407.3 288.3 407.7 283.0 410.1z" fill="#27808e"/><path d="M347.1 400.8 352.2 397.6 360.9 397.6 355.9 400.9z" fill="#228c8d"/><path d="M447.4 376.7 452.3 372.2 461.2 371.7 456.3 376.3z" fill="#25ac82"/><path d="M238.0 411.7 243.4 410.0 251.9 410.6 246.6 412.4z" fill="#287d8e"/><path d="M383.5 394.1 388.5 390.4 397.3 390.3 392.3 394.1z" fill="#1f958b"/><path d="M552.8 334.4 557.5 328.6 566.6 327.3 561.9 333.2z" fill="#9bd93c"/><path d="M539.0 341.2 543.7 335.6 552.8 334.4 548.1 340.1z" fill="#81d34d"/><path d="M433.7 381.5 438.6 377.2 447.4 376.7 442.5 381.1z" fill="#21a685"/><path d="M179.0 411.7 184.5 410.7 193.0 411.6 187.5 412.7z" fill="#287d8e"/><path d="M525.2 347.7 530.0 342.3 539.0 341.2 534.3 346.8z" fill="#6ece58"/><path d="M296.9 408.1 302.1 405.6 310.8 405.9 305.6 408.6z" fill="#25838e"/><path d="M333.3 403.6 338.4 400.6 347.1 400.8 342.0 403.9z" fill="#23898e"/><path d="M511.5 354.0 516.2 348.7 525.2 347.7 520.5 353.2z" fill="#5ac864"/><path d="M260.5 411.2 265.8 409.1 274.4 409.6 269.1 411.8z" fill="#27808e"/><path d="M201.5 412.4 207.0 411.1 215.5 411.9 210.1 413.3z" fill="#287d8e"/><path d="M497.7 360.0 502.5 354.9 511.5 354.0 506.7 359.3z" fill="#4cc26c"/><path d="M369.7 397.6 374.7 394.2 383.5 394.1 378.5 397.7z" fill="#20928c"/><path d="M419.9 385.9 424.8 381.8 433.7 381.5 428.7 385.7z" fill="#1fa187"/><path d="M483.9 365.7 488.7 360.8 497.7 360.0 492.9 365.1z" fill="#3dbc74"/><path d="M224.0 412.7 229.4 411.1 238.0 411.7 232.6 413.5z" fill="#277f8e"/><path d="M319.5 406.3 324.6 403.4 333.3 403.6 328.2 406.6z" fill="#23888e"/><path d="M406.1 390.1 411.0 386.2 419.9 385.9 414.9 390.0z" fill="#1f9e89"/><path d="M470.1 371.1 475.0 366.4 483.9 365.7 479.1 370.6z" fill="#34b679"/><path d="M283.0 410.1 288.3 407.7 296.9 408.1 291.7 410.6z" fill="#26828e"/><path d="M355.9 400.9 360.9 397.6 369.7 397.6 364.6 401.1z" fill="#21908d"/><path d="M456.3 376.3 461.2 371.7 470.1 371.1 465.3 375.8z" fill="#2ab07f"/><path d="M246.6 412.4 251.9 410.6 260.5 411.2 255.2 413.2z" fill="#26818e"/><path d="M392.3 394.1 397.3 390.3 406.1 390.1 401.1 394.1z" fill="#1f9a8a"/><path d="M187.5 412.7 193.0 411.6 201.5 412.4 196.0 413.7z" fill="#27808e"/><path d="M561.9 333.2 566.6 327.3 575.7 326.0 571.0 332.0z" fill="#aadc32"/><path d="M442.5 381.1 447.4 376.7 456.3 376.3 451.5 380.8z" fill="#25ac82"/><path d="M305.6 408.6 310.8 405.9 319.5 406.3 314.3 409.0z" fill="#24878e"/><path d="M548.1 340.1 552.8 334.4 561.9 333.2 557.2 339.1z" fill="#93d741"/><path d="M342.0 403.9 347.1 400.8 355.9 400.9 350.8 404.2z" fill="#218e8d"/><path d="M534.3 346.8 539.0 341.2 548.1 340.1 543.4 345.8z" fill="#7cd250"/><path d="M210.1 413.3 215.5 411.9 224.0 412.7 218.6 414.2z" fill="#26818e"/><path d="M269.1 411.8 274.4 409.6 283.0 410.1 277.8 412.4z" fill="#26828e"/><path d="M520.5 353.2 525.2 347.7 534.3 346.8 529.5 352.3z" fill="#67cc5c"/><path d="M378.5 397.7 383.5 394.1 392.3 394.1 387.3 397.8z" fill="#1f968b"/><path d="M428.7 385.7 433.7 381.5 442.5 381.1 437.6 385.5z" fill="#21a685"/><path d="M506.7 359.3 511.5 354.0 520.5 353.2 515.7 358.5z" fill="#56c667"/><path d="M232.6 413.5 238.0 411.7 246.6 412.4 241.2 414.3z" fill="#26828e"/><path d="M492.9 365.1 497.7 360.0 506.7 359.3 501.9 364.4z" fill="#48c16e"/><path d="M328.2 406.6 333.3 403.6 342.0 403.9 336.9 407.0z" fill="#228c8d"/><path d="M291.7 410.6 296.9 408.1 305.6 408.6 300.4 411.2z" fill="#24868e"/><path d="M414.9 390.0 419.9 385.9 428.7 385.7 423.8 389.9z" fill="#1fa287"/><path d="M479.1 370.6 483.9 365.7 492.9 365.1 488.1 370.1z" fill="#3bbb75"/><path d="M364.6 401.1 369.7 397.6 378.5 397.7 373.4 401.3z" fill="#20938c"/><path d="M173.5 412.7 179.0 411.7 187.5 412.7 182.0 413.7z" fill="#26828e"/><path d="M255.2 413.2 260.5 411.2 269.1 411.8 263.8 413.9z" fill="#25838e"/><path d="M465.3 375.8 470.1 371.1 479.1 370.6 474.2 375.4z" fill="#32b67a"/><path d="M196.0 413.7 201.5 412.4 210.1 413.3 204.6 414.7z" fill="#26828e"/><path d="M401.1 394.1 406.1 390.1 414.9 390.0 410.0 394.1z" fill="#1f9e89"/><path d="M314.3 409.0 319.5 406.3 328.2 406.6 323.0 409.5z" fill="#238a8d"/><path d="M350.8 404.2 355.9 400.9 364.6 401.1 359.5 404.5z" fill="#20928c"/><path d="M451.5 380.8 456.3 376.3 465.3 375.8 460.4 380.5z" fill="#2ab07f"/><path d="M218.6 414.2 224.0 412.7 232.6 413.5 227.2 415.1z" fill="#25838e"/><path d="M277.8 412.4 283.0 410.1 291.7 410.6 286.4 413.1z" fill="#24868e"/><path d="M571.0 332.0 575.7 326.0 584.9 324.7 580.2 330.9z" fill="#bddf26"/><path d="M557.2 339.1 561.9 333.2 571.0 332.0 566.3 338.0z" fill="#a2da37"/><path d="M543.4 345.8 548.1 340.1 557.2 339.1 552.5 344.9z" fill="#8bd646"/><path d="M387.3 397.8 392.3 394.1 401.1 394.1 396.1 397.9z" fill="#1e9b8a"/><path d="M529.5 352.3 534.3 346.8 543.4 345.8 538.6 351.5z" fill="#75d054"/><path d="M437.6 385.5 442.5 381.1 451.5 380.8 446.6 385.3z" fill="#25ab82"/><path d="M241.2 414.3 246.6 412.4 255.2 413.2 249.8 415.1z" fill="#25848e"/><path d="M515.7 358.5 520.5 353.2 529.5 352.3 524.8 357.8z" fill="#63cb5f"/><path d="M336.9 407.0 342.0 403.9 350.8 404.2 345.7 407.4z" fill="#21908d"/><path d="M300.4 411.2 305.6 408.6 314.3 409.0 309.1 411.8z" fill="#238a8d"/><path d="M501.9 364.4 506.7 359.3 515.7 358.5 510.9 363.9z" fill="#54c568"/><path d="M182.0 413.7 187.5 412.7 196.0 413.7 190.5 414.8z" fill="#25858e"/><path d="M423.8 389.9 428.7 385.7 437.6 385.5 432.7 389.9z" fill="#21a685"/><path d="M373.4 401.3 378.5 397.7 387.3 397.8 382.2 401.5z" fill="#1f988b"/><path d="M263.8 413.9 269.1 411.8 277.8 412.4 272.5 414.7z" fill="#24868e"/><path d="M488.1 370.1 492.9 365.1 501.9 364.4 497.1 369.6z" fill="#46c06f"/><path d="M204.6 414.7 210.1 413.3 218.6 414.2 213.2 415.7z" fill="#25858e"/><path d="M474.2 375.4 479.1 370.6 488.1 370.1 483.2 375.1z" fill="#3aba76"/><path d="M410.0 394.1 414.9 390.0 423.8 389.9 418.8 394.1z" fill="#1fa287"/><path d="M323.0 409.5 328.2 406.6 336.9 407.0 331.7 410.0z" fill="#218e8d"/><path d="M227.2 415.1 232.6 413.5 241.2 414.3 235.8 416.1z" fill="#24868e"/><path d="M359.5 404.5 364.6 401.1 373.4 401.3 368.4 404.8z" fill="#1f958b"/><path d="M286.4 413.1 291.7 410.6 300.4 411.2 295.1 413.8z" fill="#23898e"/><path d="M460.4 380.5 465.3 375.8 474.2 375.4 469.4 380.3z" fill="#31b57b"/><path d="M580.2 330.9 584.9 324.7 594.1 323.4 589.4 329.7z" fill="#cde11d"/><path d="M396.1 397.9 401.1 394.1 410.0 394.1 405.0 398.1z" fill="#1f9f88"/><path d="M566.3 338.0 571.0 332.0 580.2 330.9 575.5 337.0z" fill="#b5de2b"/><path d="M249.8 415.1 255.2 413.2 263.8 413.9 258.5 416.0z" fill="#24878e"/><path d="M552.5 344.9 557.2 339.1 566.3 338.0 561.6 344.0z" fill="#9bd93c"/><path d="M167.9 413.5 173.5 412.7 182.0 413.7 176.4 414.7z" fill="#23898e"/><path d="M446.6 385.3 451.5 380.8 460.4 380.5 455.5 385.2z" fill="#29af7f"/><path d="M538.6 351.5 543.4 345.8 552.5 344.9 547.7 350.7z" fill="#84d44b"/><path d="M190.5 414.8 196.0 413.7 204.6 414.7 199.1 416.0z" fill="#23888e"/><path d="M524.8 357.8 529.5 352.3 538.6 351.5 533.9 357.1z" fill="#70cf57"/><path d="M309.1 411.8 314.3 409.0 323.0 409.5 317.8 412.4z" fill="#228d8d"/><path d="M345.7 407.4 350.8 404.2 359.5 404.5 354.4 407.8z" fill="#20938c"/><path d="M510.9 363.9 515.7 358.5 524.8 357.8 520.0 363.3z" fill="#5ec962"/><path d="M432.7 389.9 437.6 385.5 446.6 385.3 441.6 389.8z" fill="#25ab82"/><path d="M272.5 414.7 277.8 412.4 286.4 413.1 281.2 415.5z" fill="#238a8d"/><path d="M382.2 401.5 387.3 397.8 396.1 397.9 391.1 401.7z" fill="#1e9c89"/><path d="M213.2 415.7 218.6 414.2 227.2 415.1 221.8 416.7z" fill="#23888e"/><path d="M497.1 369.6 501.9 364.4 510.9 363.9 506.1 369.1z" fill="#50c46a"/><path d="M235.8 416.1 241.2 414.3 249.8 415.1 244.5 417.0z" fill="#23898e"/><path d="M418.8 394.1 423.8 389.9 432.7 389.9 427.8 394.1z" fill="#22a785"/><path d="M483.2 375.1 488.1 370.1 497.1 369.6 492.2 374.7z" fill="#42be71"/><path d="M331.7 410.0 336.9 407.0 345.7 407.4 340.5 410.6z" fill="#20928c"/><path d="M295.1 413.8 300.4 411.2 309.1 411.8 303.9 414.5z" fill="#228d8d"/><path d="M368.4 404.8 373.4 401.3 382.2 401.5 377.2 405.2z" fill="#1f998a"/><path d="M469.4 380.3 474.2 375.4 483.2 375.1 478.4 380.0z" fill="#38b977"/><path d="M176.4 414.7 182.0 413.7 190.5 414.8 185.0 416.0z" fill="#228b8d"/><path d="M258.5 416.0 263.8 413.9 272.5 414.7 267.2 416.9z" fill="#238a8d"/><path d="M405.0 398.1 410.0 394.1 418.8 394.1 413.9 398.2z" fill="#20a386"/><path d="M589.4 329.7 594.1 323.4 603.3 322.2 598.6 328.6z" fill="#dfe318"/><path d="M575.5 337.0 580.2 330.9 589.4 329.7 584.7 336.0z" fill="#c5e021"/><path d="M199.1 416.0 204.6 414.7 213.2 415.7 207.7 417.1z" fill="#238a8d"/><path d="M455.5 385.2 460.4 380.5 469.4 380.3 464.5 385.0z" fill="#2fb47c"/><path d="M561.6 344.0 566.3 338.0 575.5 337.0 570.8 343.1z" fill="#aadc32"/><path d="M317.8 412.4 323.0 409.5 331.7 410.0 326.6 413.0z" fill="#21918c"/><path d="M354.4 407.8 359.5 404.5 368.4 404.8 363.3 408.3z" fill="#1f978b"/><path d="M547.7 350.7 552.5 344.9 561.6 344.0 556.9 349.9z" fill="#93d741"/><path d="M533.9 357.1 538.6 351.5 547.7 350.7 543.0 356.5z" fill="#7fd34e"/><path d="M281.2 415.5 286.4 413.1 295.1 413.8 289.9 416.3z" fill="#228d8d"/><path d="M221.8 416.7 227.2 415.1 235.8 416.1 230.4 417.8z" fill="#228b8d"/><path d="M391.1 401.7 396.1 397.9 405.0 398.1 400.0 402.0z" fill="#1fa088"/><path d="M441.6 389.8 446.6 385.3 455.5 385.2 450.6 389.8z" fill="#29af7f"/><path d="M520.0 363.3 524.8 357.8 533.9 357.1 529.1 362.7z" fill="#6ccd5a"/><path d="M506.1 369.1 510.9 363.9 520.0 363.3 515.2 368.7z" fill="#5ac864"/><path d="M244.5 417.0 249.8 415.1 258.5 416.0 253.1 418.0z" fill="#228c8d"/><path d="M340.5 410.6 345.7 407.4 354.4 407.8 349.3 411.1z" fill="#1f958b"/><path d="M427.8 394.1 432.7 389.9 441.6 389.8 436.7 394.2z" fill="#25ab82"/><path d="M303.9 414.5 309.1 411.8 317.8 412.4 312.6 415.2z" fill="#21908d"/><path d="M162.3 414.3 167.9 413.5 176.4 414.7 170.8 415.7z" fill="#218f8d"/><path d="M492.2 374.7 497.1 369.6 506.1 369.1 501.3 374.4z" fill="#4cc26c"/><path d="M377.2 405.2 382.2 401.5 391.1 401.7 386.0 405.5z" fill="#1e9d89"/><path d="M185.0 416.0 190.5 414.8 199.1 416.0 193.6 417.2z" fill="#218e8d"/><path d="M267.2 416.9 272.5 414.7 281.2 415.5 275.9 417.8z" fill="#218e8d"/><path d="M478.4 380.0 483.2 375.1 492.2 374.7 487.4 379.8z" fill="#40bd72"/><path d="M413.9 398.2 418.8 394.1 427.8 394.1 422.8 398.4z" fill="#22a785"/><path d="M207.7 417.1 213.2 415.7 221.8 416.7 216.3 418.3z" fill="#228d8d"/><path d="M326.6 413.0 331.7 410.0 340.5 410.6 335.4 413.7z" fill="#1f948c"/><path d="M464.5 385.0 469.4 380.3 478.4 380.0 473.5 384.9z" fill="#37b878"/><path d="M363.3 408.3 368.4 404.8 377.2 405.2 372.1 408.8z" fill="#1e9b8a"/><path d="M584.7 336.0 589.4 329.7 598.6 328.6 593.9 335.0z" fill="#d5e21a"/><path d="M598.6 328.6 603.3 322.2 612.6 320.9 607.9 327.5z" fill="#efe51c"/><path d="M570.8 343.1 575.5 337.0 584.7 336.0 580.0 342.2z" fill="#bade28"/><path d="M230.4 417.8 235.8 416.1 244.5 417.0 239.1 418.9z" fill="#228d8d"/><path d="M289.9 416.3 295.1 413.8 303.9 414.5 298.6 417.1z" fill="#21908d"/><path d="M556.9 349.9 561.6 344.0 570.8 343.1 566.1 349.2z" fill="#a2da37"/><path d="M400.0 402.0 405.0 398.1 413.9 398.2 408.9 402.3z" fill="#20a386"/><path d="M543.0 356.5 547.7 350.7 556.9 349.9 552.1 355.8z" fill="#8ed645"/><path d="M450.6 389.8 455.5 385.2 464.5 385.0 459.6 389.8z" fill="#2fb47c"/><path d="M529.1 362.7 533.9 357.1 543.0 356.5 538.2 362.2z" fill="#77d153"/><path d="M253.1 418.0 258.5 416.0 267.2 416.9 261.8 419.1z" fill="#218f8d"/><path d="M170.8 415.7 176.4 414.7 185.0 416.0 179.4 417.0z" fill="#21918c"/><path d="M515.2 368.7 520.0 363.3 529.1 362.7 524.3 368.3z" fill="#67cc5c"/><path d="M349.3 411.1 354.4 407.8 363.3 408.3 358.2 411.7z" fill="#1f998a"/><path d="M312.6 415.2 317.8 412.4 326.6 413.0 321.4 416.0z" fill="#20938c"/><path d="M436.7 394.2 441.6 389.8 450.6 389.8 445.7 394.3z" fill="#29af7f"/><path d="M386.0 405.5 391.1 401.7 400.0 402.0 394.9 405.9z" fill="#1fa188"/><path d="M193.6 417.2 199.1 416.0 207.7 417.1 202.2 418.5z" fill="#21908d"/><path d="M501.3 374.4 506.1 369.1 515.2 368.7 510.4 374.1z" fill="#58c765"/><path d="M275.9 417.8 281.2 415.5 289.9 416.3 284.6 418.8z" fill="#21918c"/><path d="M216.3 418.3 221.8 416.7 230.4 417.8 224.9 419.5z" fill="#21908d"/><path d="M487.4 379.8 492.2 374.7 501.3 374.4 496.4 379.6z" fill="#4ac16d"/><path d="M422.8 398.4 427.8 394.1 436.7 394.2 431.7 398.6z" fill="#25ab82"/><path d="M335.4 413.7 340.5 410.6 349.3 411.1 344.2 414.4z" fill="#1f978b"/><path d="M372.1 408.8 377.2 405.2 386.0 405.5 381.0 409.3z" fill="#1f9e89"/><path d="M239.1 418.9 244.5 417.0 253.1 418.0 247.7 420.0z" fill="#21908d"/><path d="M473.5 384.9 478.4 380.0 487.4 379.8 482.5 384.8z" fill="#3fbc73"/><path d="M298.6 417.1 303.9 414.5 312.6 415.2 307.4 418.0z" fill="#20928c"/><path d="M593.9 335.0 598.6 328.6 607.9 327.5 603.2 334.1z" fill="#e5e419"/><path d="M580.0 342.2 584.7 336.0 593.9 335.0 589.2 341.4z" fill="#cde11d"/><path d="M607.9 327.5 612.6 320.9 621.8 319.7 617.2 326.4z" fill="#fde725"/><path d="M408.9 402.3 413.9 398.2 422.8 398.4 417.8 402.6z" fill="#22a785"/><path d="M566.1 349.2 570.8 343.1 580.0 342.2 575.3 348.4z" fill="#b2dd2d"/><path d="M156.6 415.1 162.3 414.3 170.8 415.7 165.2 416.5z" fill="#1f948c"/><path d="M459.6 389.8 464.5 385.0 473.5 384.9 468.6 389.8z" fill="#35b779"/><path d="M261.8 419.1 267.2 416.9 275.9 417.8 270.5 420.1z" fill="#21918c"/><path d="M552.1 355.8 556.9 349.9 566.1 349.2 561.3 355.2z" fill="#9bd93c"/><path d="M179.4 417.0 185.0 416.0 193.6 417.2 188.0 418.4z" fill="#20938c"/><path d="M538.2 362.2 543.0 356.5 552.1 355.8 547.4 361.7z" fill="#86d549"/><path d="M358.2 411.7 363.3 408.3 372.1 408.8 367.0 412.3z" fill="#1e9c89"/><path d="M321.4 416.0 326.6 413.0 335.4 413.7 330.2 416.8z" fill="#1f968b"/><path d="M202.2 418.5 207.7 417.1 216.3 418.3 210.8 419.8z" fill="#20928c"/><path d="M524.3 368.3 529.1 362.7 538.2 362.2 533.4 367.9z" fill="#73d056"/><path d="M445.7 394.3 450.6 389.8 459.6 389.8 454.7 394.4z" fill="#2eb37c"/><path d="M394.9 405.9 400.0 402.0 408.9 402.3 403.8 406.3z" fill="#20a486"/><path d="M284.6 418.8 289.9 416.3 298.6 417.1 293.3 419.7z" fill="#20938c"/><path d="M510.4 374.1 515.2 368.7 524.3 368.3 519.5 373.8z" fill="#63cb5f"/><path d="M224.9 419.5 230.4 417.8 239.1 418.9 233.6 420.7z" fill="#20928c"/><path d="M496.4 379.6 501.3 374.4 510.4 374.1 505.5 379.4z" fill="#54c568"/><path d="M431.7 398.6 436.7 394.2 445.7 394.3 440.7 398.8z" fill="#29af7f"/><path d="M344.2 414.4 349.3 411.1 358.2 411.7 353.0 415.1z" fill="#1e9b8a"/><path d="M247.7 420.0 253.1 418.0 261.8 419.1 256.4 421.2z" fill="#20928c"/><path d="M381.0 409.3 386.0 405.5 394.9 405.9 389.9 409.8z" fill="#1fa187"/><path d="M307.4 418.0 312.6 415.2 321.4 416.0 316.2 418.9z" fill="#1f968b"/><path d="M482.5 384.8 487.4 379.8 496.4 379.6 491.6 384.7z" fill="#48c16e"/><path d="M165.2 416.5 170.8 415.7 179.4 417.0 173.8 418.0z" fill="#1f978b"/><path d="M417.8 402.6 422.8 398.4 431.7 398.6 426.8 402.9z" fill="#25ac82"/><path d="M270.5 420.1 275.9 417.8 284.6 418.8 279.3 421.2z" fill="#20938c"/><path d="M188.0 418.4 193.6 417.2 202.2 418.5 196.6 419.8z" fill="#1f958b"/><path d="M603.2 334.1 607.9 327.5 617.2 326.4 612.5 333.1z" fill="#f6e620"/><path d="M589.2 341.4 593.9 335.0 603.2 334.1 598.5 340.6z" fill="#dde318"/><path d="M468.6 389.8 473.5 384.9 482.5 384.8 477.6 389.8z" fill="#3dbc74"/><path d="M575.3 348.4 580.0 342.2 589.2 341.4 584.5 347.7z" fill="#c2df23"/><path d="M561.3 355.2 566.1 349.2 575.3 348.4 570.5 354.6z" fill="#aadc32"/><path d="M210.8 419.8 216.3 418.3 224.9 419.5 219.5 421.1z" fill="#1f948c"/><path d="M330.2 416.8 335.4 413.7 344.2 414.4 339.0 417.6z" fill="#1f998a"/><path d="M367.0 412.3 372.1 408.8 381.0 409.3 375.9 412.9z" fill="#1fa088"/><path d="M547.4 361.7 552.1 355.8 561.3 355.2 556.6 361.2z" fill="#93d741"/><path d="M293.3 419.7 298.6 417.1 307.4 418.0 302.1 420.7z" fill="#1f968b"/><path d="M403.8 406.3 408.9 402.3 417.8 402.6 412.8 406.8z" fill="#22a884"/><path d="M454.7 394.4 459.6 389.8 468.6 389.8 463.7 394.6z" fill="#35b779"/><path d="M533.4 367.9 538.2 362.2 547.4 361.7 542.6 367.5z" fill="#7fd34e"/><path d="M233.6 420.7 239.1 418.9 247.7 420.0 242.3 422.0z" fill="#1f948c"/><path d="M519.5 373.8 524.3 368.3 533.4 367.9 528.6 373.5z" fill="#6ece58"/><path d="M256.4 421.2 261.8 419.1 270.5 420.1 265.2 422.4z" fill="#1f958b"/><path d="M353.0 415.1 358.2 411.7 367.0 412.3 361.9 415.8z" fill="#1f9e89"/><path d="M440.7 398.8 445.7 394.3 454.7 394.4 449.7 399.1z" fill="#2eb37c"/><path d="M505.5 379.4 510.4 374.1 519.5 373.8 514.6 379.2z" fill="#5ec962"/><path d="M316.2 418.9 321.4 416.0 330.2 416.8 325.0 419.8z" fill="#1f998a"/><path d="M150.9 415.8 156.6 415.1 165.2 416.5 159.5 417.4z" fill="#1e9b8a"/><path d="M389.9 409.8 394.9 405.9 403.8 406.3 398.8 410.3z" fill="#21a585"/><path d="M173.8 418.0 179.4 417.0 188.0 418.4 182.4 419.5z" fill="#1f998a"/><path d="M491.6 384.7 496.4 379.6 505.5 379.4 500.7 384.7z" fill="#52c569"/><path d="M196.6 419.8 202.2 418.5 210.8 419.8 205.3 421.2z" fill="#1f978b"/><path d="M279.3 421.2 284.6 418.8 293.3 419.7 288.0 422.3z" fill="#1f968b"/><path d="M426.8 402.9 431.7 398.6 440.7 398.8 435.7 403.3z" fill="#29af7f"/><path d="M219.5 421.1 224.9 419.5 233.6 420.7 228.2 422.5z" fill="#1f968b"/><path d="M477.6 389.8 482.5 384.8 491.6 384.7 486.7 389.9z" fill="#46c06f"/><path d="M339.0 417.6 344.2 414.4 353.0 415.1 347.9 418.4z" fill="#1e9d89"/><path d="M375.9 412.9 381.0 409.3 389.9 409.8 384.8 413.6z" fill="#1fa287"/><path d="M598.5 340.6 603.2 334.1 612.5 333.1 607.8 339.8z" fill="#ece51b"/><path d="M584.5 347.7 589.2 341.4 598.5 340.6 593.8 347.0z" fill="#d2e21b"/><path d="M570.5 354.6 575.3 348.4 584.5 347.7 579.8 354.0z" fill="#bade28"/><path d="M302.1 420.7 307.4 418.0 316.2 418.9 310.9 421.8z" fill="#1f998a"/><path d="M242.3 422.0 247.7 420.0 256.4 421.2 251.0 423.3z" fill="#1f968b"/><path d="M556.6 361.2 561.3 355.2 570.5 354.6 565.8 360.7z" fill="#a2da37"/><path d="M412.8 406.8 417.8 402.6 426.8 402.9 421.8 407.2z" fill="#25ac82"/><path d="M463.7 394.6 468.6 389.8 477.6 389.8 472.7 394.8z" fill="#3bbb75"/><path d="M542.6 367.5 547.4 361.7 556.6 361.2 551.8 367.1z" fill="#8ed645"/><path d="M265.2 422.4 270.5 420.1 279.3 421.2 273.9 423.6z" fill="#1f978b"/><path d="M528.6 373.5 533.4 367.9 542.6 367.5 537.8 373.3z" fill="#7ad151"/><path d="M159.5 417.4 165.2 416.5 173.8 418.0 168.1 419.0z" fill="#1e9d89"/><path d="M361.9 415.8 367.0 412.3 375.9 412.9 370.8 416.6z" fill="#1fa188"/><path d="M325.0 419.8 330.2 416.8 339.0 417.6 333.8 420.8z" fill="#1e9c89"/><path d="M449.7 399.1 454.7 394.4 463.7 394.6 458.7 399.4z" fill="#34b679"/><path d="M182.4 419.5 188.0 418.4 196.6 419.8 191.1 421.1z" fill="#1e9b8a"/><path d="M398.8 410.3 403.8 406.3 412.8 406.8 407.8 410.9z" fill="#23a983"/><path d="M514.6 379.2 519.5 373.8 528.6 373.5 523.8 379.1z" fill="#69cd5b"/><path d="M205.3 421.2 210.8 419.8 219.5 421.1 214.0 422.7z" fill="#1f998a"/><path d="M288.0 422.3 293.3 419.7 302.1 420.7 296.8 423.4z" fill="#1f998a"/><path d="M500.7 384.7 505.5 379.4 514.6 379.2 509.8 384.7z" fill="#5ac864"/><path d="M435.7 403.3 440.7 398.8 449.7 399.1 444.8 403.7z" fill="#2eb37c"/><path d="M228.2 422.5 233.6 420.7 242.3 422.0 236.9 423.9z" fill="#1f998a"/><path d="M347.9 418.4 353.0 415.1 361.9 415.8 356.7 419.3z" fill="#1fa088"/><path d="M384.8 413.6 389.9 409.8 398.8 410.3 393.7 414.3z" fill="#21a685"/><path d="M486.7 389.9 491.6 384.7 500.7 384.7 495.8 389.9z" fill="#4ec36b"/><path d="M251.0 423.3 256.4 421.2 265.2 422.4 259.8 424.6z" fill="#1f998a"/><path d="M310.9 421.8 316.2 418.9 325.0 419.8 319.7 422.8z" fill="#1e9b8a"/><path d="M593.8 347.0 598.5 340.6 607.8 339.8 603.1 346.3z" fill="#e2e418"/><path d="M421.8 407.2 426.8 402.9 435.7 403.3 430.7 407.7z" fill="#29af7f"/><path d="M579.8 354.0 584.5 347.7 593.8 347.0 589.0 353.4z" fill="#c8e020"/><path d="M472.7 394.8 477.6 389.8 486.7 389.9 481.8 394.9z" fill="#42be71"/><path d="M565.8 360.7 570.5 354.6 579.8 354.0 575.0 360.3z" fill="#b0dd2f"/><path d="M145.2 416.4 150.9 415.8 159.5 417.4 153.8 418.1z" fill="#1fa187"/><path d="M273.9 423.6 279.3 421.2 288.0 422.3 282.7 424.8z" fill="#1f9a8a"/><path d="M168.1 419.0 173.8 418.0 182.4 419.5 176.8 420.6z" fill="#1f9f88"/><path d="M551.8 367.1 556.6 361.2 565.8 360.7 561.0 366.8z" fill="#9bd93c"/><path d="M191.1 421.1 196.6 419.8 205.3 421.2 199.7 422.6z" fill="#1e9d89"/><path d="M370.8 416.6 375.9 412.9 384.8 413.6 379.7 417.4z" fill="#20a486"/><path d="M333.8 420.8 339.0 417.6 347.9 418.4 342.7 421.7z" fill="#1f9f88"/><path d="M537.8 373.3 542.6 367.5 551.8 367.1 547.0 373.0z" fill="#86d549"/><path d="M458.7 399.4 463.7 394.6 472.7 394.8 467.8 399.7z" fill="#3aba76"/><path d="M407.8 410.9 412.8 406.8 421.8 407.2 416.7 411.5z" fill="#25ac82"/><path d="M214.0 422.7 219.5 421.1 228.2 422.5 222.7 424.2z" fill="#1e9b8a"/><path d="M296.8 423.4 302.1 420.7 310.9 421.8 305.6 424.6z" fill="#1e9c89"/><path d="M523.8 379.1 528.6 373.5 537.8 373.3 533.0 379.0z" fill="#75d054"/><path d="M236.9 423.9 242.3 422.0 251.0 423.3 245.6 425.3z" fill="#1e9b8a"/><path d="M509.8 384.7 514.6 379.2 523.8 379.1 519.0 384.7z" fill="#65cb5e"/><path d="M444.8 403.7 449.7 399.1 458.7 399.4 453.8 404.1z" fill="#34b679"/><path d="M356.7 419.3 361.9 415.8 370.8 416.6 365.6 420.2z" fill="#1fa287"/><path d="M393.7 414.3 398.8 410.3 407.8 410.9 402.7 415.0z" fill="#23a983"/><path d="M259.8 424.6 265.2 422.4 273.9 423.6 268.6 425.9z" fill="#1e9b8a"/><path d="M319.7 422.8 325.0 419.8 333.8 420.8 328.6 423.9z" fill="#1f9e89"/><path d="M495.8 389.9 500.7 384.7 509.8 384.7 504.9 390.0z" fill="#58c765"/><path d="M153.8 418.1 159.5 417.4 168.1 419.0 162.5 419.9z" fill="#1fa287"/><path d="M430.7 407.7 435.7 403.3 444.8 403.7 439.8 408.2z" fill="#2eb37c"/><path d="M176.8 420.6 182.4 419.5 191.1 421.1 185.4 422.3z" fill="#1fa188"/><path d="M282.7 424.8 288.0 422.3 296.8 423.4 291.5 426.0z" fill="#1e9c89"/><path d="M481.8 394.9 486.7 389.9 495.8 389.9 490.9 395.1z" fill="#4cc26c"/><path d="M589.0 353.4 593.8 347.0 603.1 346.3 598.3 352.9z" fill="#d8e219"/><path d="M199.7 422.6 205.3 421.2 214.0 422.7 208.4 424.2z" fill="#1f9f88"/><path d="M575.0 360.3 579.8 354.0 589.0 353.4 584.3 359.8z" fill="#c0df25"/><path d="M379.7 417.4 384.8 413.6 393.7 414.3 388.7 418.2z" fill="#22a785"/><path d="M342.7 421.7 347.9 418.4 356.7 419.3 351.6 422.7z" fill="#1fa187"/><path d="M561.0 366.8 565.8 360.7 575.0 360.3 570.2 366.5z" fill="#a8db34"/><path d="M222.7 424.2 228.2 422.5 236.9 423.9 231.4 425.7z" fill="#1e9d89"/><path d="M416.7 411.5 421.8 407.2 430.7 407.7 425.7 412.1z" fill="#29af7f"/><path d="M467.8 399.7 472.7 394.8 481.8 394.9 476.9 400.0z" fill="#40bd72"/><path d="M547.0 373.0 551.8 367.1 561.0 366.8 556.2 372.8z" fill="#93d741"/><path d="M305.6 424.6 310.9 421.8 319.7 422.8 314.5 425.7z" fill="#1f9e89"/><path d="M245.6 425.3 251.0 423.3 259.8 424.6 254.4 426.7z" fill="#1e9d89"/><path d="M533.0 379.0 537.8 373.3 547.0 373.0 542.2 378.9z" fill="#81d34d"/><path d="M453.8 404.1 458.7 399.4 467.8 399.7 462.9 404.5z" fill="#3aba76"/><path d="M365.6 420.2 370.8 416.6 379.7 417.4 374.6 421.1z" fill="#21a585"/><path d="M519.0 384.7 523.8 379.1 533.0 379.0 528.1 384.7z" fill="#70cf57"/><path d="M268.6 425.9 273.9 423.6 282.7 424.8 277.4 427.2z" fill="#1e9d89"/><path d="M328.6 423.9 333.8 420.8 342.7 421.7 337.5 425.0z" fill="#1fa188"/><path d="M402.7 415.0 407.8 410.9 416.7 411.5 411.7 415.7z" fill="#26ad81"/><path d="M139.5 417.0 145.2 416.4 153.8 418.1 148.1 418.9z" fill="#22a884"/><path d="M162.5 419.9 168.1 419.0 176.8 420.6 171.1 421.6z" fill="#20a486"/><path d="M504.9 390.0 509.8 384.7 519.0 384.7 514.1 390.2z" fill="#60ca60"/><path d="M185.4 422.3 191.1 421.1 199.7 422.6 194.1 424.0z" fill="#1fa187"/><path d="M291.5 426.0 296.8 423.4 305.6 424.6 300.3 427.3z" fill="#1f9f88"/><path d="M439.8 408.2 444.8 403.7 453.8 404.1 448.8 408.8z" fill="#32b67a"/><path d="M208.4 424.2 214.0 422.7 222.7 424.2 217.1 425.8z" fill="#1fa088"/><path d="M490.9 395.1 495.8 389.9 504.9 390.0 500.1 395.4z" fill="#54c568"/><path d="M351.6 422.7 356.7 419.3 365.6 420.2 360.5 423.7z" fill="#20a486"/><path d="M231.4 425.7 236.9 423.9 245.6 425.3 240.2 427.2z" fill="#1f9f88"/><path d="M388.7 418.2 393.7 414.3 402.7 415.0 397.6 419.0z" fill="#24aa83"/><path d="M584.3 359.8 589.0 353.4 598.3 352.9 593.6 359.4z" fill="#cde11d"/><path d="M314.5 425.7 319.7 422.8 328.6 423.9 323.4 426.9z" fill="#1fa188"/><path d="M570.2 366.5 575.0 360.3 584.3 359.8 579.5 366.2z" fill="#b5de2b"/><path d="M425.7 412.1 430.7 407.7 439.8 408.2 434.8 412.8z" fill="#2eb37c"/><path d="M254.4 426.7 259.8 424.6 268.6 425.9 263.2 428.2z" fill="#1f9f88"/><path d="M476.9 400.0 481.8 394.9 490.9 395.1 486.0 400.3z" fill="#4ac16d"/><path d="M556.2 372.8 561.0 366.8 570.2 366.5 565.5 372.6z" fill="#a0da39"/><path d="M542.2 378.9 547.0 373.0 556.2 372.8 551.4 378.8z" fill="#8bd646"/><path d="M277.4 427.2 282.7 424.8 291.5 426.0 286.2 428.6z" fill="#1fa088"/><path d="M374.6 421.1 379.7 417.4 388.7 418.2 383.5 422.0z" fill="#22a884"/><path d="M462.9 404.5 467.8 399.7 476.9 400.0 472.0 405.0z" fill="#40bd72"/><path d="M337.5 425.0 342.7 421.7 351.6 422.7 346.4 426.1z" fill="#20a386"/><path d="M148.1 418.9 153.8 418.1 162.5 419.9 156.8 420.7z" fill="#23a983"/><path d="M528.1 384.7 533.0 379.0 542.2 378.9 537.3 384.7z" fill="#7ad151"/><path d="M411.7 415.7 416.7 411.5 425.7 412.1 420.7 416.5z" fill="#29af7f"/><path d="M171.1 421.6 176.8 420.6 185.4 422.3 179.8 423.4z" fill="#21a685"/><path d="M194.1 424.0 199.7 422.6 208.4 424.2 202.9 425.7z" fill="#20a386"/><path d="M300.3 427.3 305.6 424.6 314.5 425.7 309.2 428.6z" fill="#1fa188"/><path d="M217.1 425.8 222.7 424.2 231.4 425.7 225.9 427.5z" fill="#1fa187"/><path d="M514.1 390.2 519.0 384.7 528.1 384.7 523.3 390.3z" fill="#69cd5b"/><path d="M448.8 408.8 453.8 404.1 462.9 404.5 457.9 409.3z" fill="#38b977"/><path d="M240.2 427.2 245.6 425.3 254.4 426.7 248.9 428.8z" fill="#1fa188"/><path d="M360.5 423.7 365.6 420.2 374.6 421.1 369.4 424.8z" fill="#22a785"/><path d="M500.1 395.4 504.9 390.0 514.1 390.2 509.2 395.6z" fill="#5cc863"/><path d="M397.6 419.0 402.7 415.0 411.7 415.7 406.6 419.9z" fill="#27ad81"/><path d="M323.4 426.9 328.6 423.9 337.5 425.0 332.2 428.2z" fill="#20a386"/><path d="M263.2 428.2 268.6 425.9 277.4 427.2 272.0 429.6z" fill="#1fa188"/><path d="M434.8 412.8 439.8 408.2 448.8 408.8 443.8 413.4z" fill="#32b67a"/><path d="M486.0 400.3 490.9 395.1 500.1 395.4 495.2 400.7z" fill="#52c569"/><path d="M579.5 366.2 584.3 359.8 593.6 359.4 588.8 365.9z" fill="#c2df23"/><path d="M565.5 372.6 570.2 366.5 579.5 366.2 574.7 372.5z" fill="#addc30"/><path d="M286.2 428.6 291.5 426.0 300.3 427.3 295.0 430.0z" fill="#1fa187"/><path d="M156.8 420.7 162.5 419.9 171.1 421.6 165.4 422.6z" fill="#24aa83"/><path d="M383.5 422.0 388.7 418.2 397.6 419.0 392.5 423.0z" fill="#25ab82"/><path d="M133.7 417.5 139.5 417.0 148.1 418.9 142.3 419.5z" fill="#27ad81"/><path d="M179.8 423.4 185.4 422.3 194.1 424.0 188.5 425.3z" fill="#22a785"/><path d="M551.4 378.8 556.2 372.8 565.5 372.6 560.7 378.8z" fill="#98d83e"/><path d="M346.4 426.1 351.6 422.7 360.5 423.7 355.3 427.2z" fill="#21a685"/><path d="M472.0 405.0 476.9 400.0 486.0 400.3 481.1 405.4z" fill="#46c06f"/><path d="M202.9 425.7 208.4 424.2 217.1 425.8 211.6 427.4z" fill="#21a585"/><path d="M420.7 416.5 425.7 412.1 434.8 412.8 429.8 417.2z" fill="#2eb37c"/><path d="M537.3 384.7 542.2 378.9 551.4 378.8 546.6 384.8z" fill="#86d549"/><path d="M225.9 427.5 231.4 425.7 240.2 427.2 234.7 429.1z" fill="#20a386"/><path d="M309.2 428.6 314.5 425.7 323.4 426.9 318.1 430.0z" fill="#20a386"/><path d="M523.3 390.3 528.1 384.7 537.3 384.7 532.5 390.5z" fill="#75d054"/><path d="M248.9 428.8 254.4 426.7 263.2 428.2 257.7 430.4z" fill="#1fa287"/><path d="M457.9 409.3 462.9 404.5 472.0 405.0 467.0 409.9z" fill="#3fbc73"/><path d="M369.4 424.8 374.6 421.1 383.5 422.0 378.4 425.8z" fill="#24aa83"/><path d="M406.6 419.9 411.7 415.7 420.7 416.5 415.7 420.7z" fill="#2ab07f"/><path d="M509.2 395.6 514.1 390.2 523.3 390.3 518.4 395.9z" fill="#65cb5e"/><path d="M332.2 428.2 337.5 425.0 346.4 426.1 341.2 429.4z" fill="#21a585"/><path d="M272.0 429.6 277.4 427.2 286.2 428.6 280.8 431.2z" fill="#1fa287"/><path d="M443.8 413.4 448.8 408.8 457.9 409.3 452.9 414.1z" fill="#38b977"/><path d="M495.2 400.7 500.1 395.4 509.2 395.6 504.3 401.1z" fill="#5ac864"/><path d="M295.0 430.0 300.3 427.3 309.2 428.6 303.9 431.5z" fill="#20a386"/><path d="M165.4 422.6 171.1 421.6 179.8 423.4 174.1 424.5z" fill="#25ac82"/><path d="M142.3 419.5 148.1 418.9 156.8 420.7 151.0 421.5z" fill="#29af7f"/><path d="M188.5 425.3 194.1 424.0 202.9 425.7 197.3 427.1z" fill="#23a983"/><path d="M392.5 423.0 397.6 419.0 406.6 419.9 401.5 424.0z" fill="#27ad81"/><path d="M574.7 372.5 579.5 366.2 588.8 365.9 584.1 372.3z" fill="#bade28"/><path d="M211.6 427.4 217.1 425.8 225.9 427.5 220.4 429.2z" fill="#21a685"/><path d="M355.3 427.2 360.5 423.7 369.4 424.8 364.3 428.4z" fill="#22a884"/><path d="M560.7 378.8 565.5 372.6 574.7 372.5 570.0 378.7z" fill="#a5db36"/><path d="M481.1 405.4 486.0 400.3 495.2 400.7 490.2 405.9z" fill="#4ec36b"/><path d="M429.8 417.2 434.8 412.8 443.8 413.4 438.8 418.0z" fill="#32b67a"/><path d="M234.7 429.1 240.2 427.2 248.9 428.8 243.5 430.8z" fill="#21a585"/><path d="M318.1 430.0 323.4 426.9 332.2 428.2 327.0 431.3z" fill="#21a585"/><path d="M546.6 384.8 551.4 378.8 560.7 378.8 555.8 384.8z" fill="#90d743"/><path d="M257.7 430.4 263.2 428.2 272.0 429.6 266.6 432.0z" fill="#20a486"/><path d="M467.0 409.9 472.0 405.0 481.1 405.4 476.1 410.5z" fill="#44bf70"/><path d="M532.5 390.5 537.3 384.7 546.6 384.8 541.7 390.7z" fill="#7fd34e"/><path d="M378.4 425.8 383.5 422.0 392.5 423.0 387.4 426.9z" fill="#25ac82"/><path d="M415.7 420.7 420.7 416.5 429.8 417.2 424.7 421.7z" fill="#2eb37c"/><path d="M280.8 431.2 286.2 428.6 295.0 430.0 289.7 432.7z" fill="#21a585"/><path d="M341.2 429.4 346.4 426.1 355.3 427.2 350.1 430.7z" fill="#22a884"/><path d="M518.4 395.9 523.3 390.3 532.5 390.5 527.6 396.2z" fill="#70cf57"/><path d="M452.9 414.1 457.9 409.3 467.0 409.9 462.0 414.8z" fill="#3dbc74"/><path d="M174.1 424.5 179.8 423.4 188.5 425.3 182.9 426.5z" fill="#26ad81"/><path d="M151.0 421.5 156.8 420.7 165.4 422.6 159.7 423.5z" fill="#2ab07f"/><path d="M197.3 427.1 202.9 425.7 211.6 427.4 206.0 429.0z" fill="#24aa83"/><path d="M303.9 431.5 309.2 428.6 318.1 430.0 312.8 432.9z" fill="#21a685"/><path d="M127.9 418.0 133.7 417.5 142.3 419.5 136.5 420.1z" fill="#2fb47c"/><path d="M504.3 401.1 509.2 395.6 518.4 395.9 513.5 401.5z" fill="#63cb5f"/><path d="M220.4 429.2 225.9 427.5 234.7 429.1 229.1 431.0z" fill="#22a884"/><path d="M401.5 424.0 406.6 419.9 415.7 420.7 410.6 425.0z" fill="#2ab07f"/><path d="M364.3 428.4 369.4 424.8 378.4 425.8 373.3 429.6z" fill="#25ab82"/><path d="M243.5 430.8 248.9 428.8 257.7 430.4 252.3 432.6z" fill="#22a785"/><path d="M438.8 418.0 443.8 413.4 452.9 414.1 447.9 418.8z" fill="#37b878"/><path d="M327.0 431.3 332.2 428.2 341.2 429.4 335.9 432.7z" fill="#22a785"/><path d="M490.2 405.9 495.2 400.7 504.3 401.1 499.4 406.5z" fill="#56c667"/><path d="M570.0 378.7 574.7 372.5 584.1 372.3 579.3 378.7z" fill="#b0dd2f"/><path d="M266.6 432.0 272.0 429.6 280.8 431.2 275.4 433.6z" fill="#21a685"/><path d="M555.8 384.8 560.7 378.8 570.0 378.7 565.1 385.0z" fill="#9dd93b"/><path d="M387.4 426.9 392.5 423.0 401.5 424.0 396.4 428.1z" fill="#28ae80"/><path d="M476.1 410.5 481.1 405.4 490.2 405.9 485.3 411.2z" fill="#4cc26c"/><path d="M289.7 432.7 295.0 430.0 303.9 431.5 298.6 434.3z" fill="#22a785"/><path d="M541.7 390.7 546.6 384.8 555.8 384.8 551.0 390.9z" fill="#89d548"/><path d="M350.1 430.7 355.3 427.2 364.3 428.4 359.1 432.0z" fill="#24aa83"/><path d="M424.7 421.7 429.8 417.2 438.8 418.0 433.8 422.6z" fill="#32b67a"/><path d="M159.7 423.5 165.4 422.6 174.1 424.5 168.4 425.6z" fill="#2cb17e"/><path d="M182.9 426.5 188.5 425.3 197.3 427.1 191.6 428.5z" fill="#27ad81"/><path d="M527.6 396.2 532.5 390.5 541.7 390.7 536.9 396.5z" fill="#7ad151"/><path d="M136.5 420.1 142.3 419.5 151.0 421.5 145.2 422.2z" fill="#32b67a"/><path d="M206.0 429.0 211.6 427.4 220.4 429.2 214.8 430.9z" fill="#25ac82"/><path d="M312.8 432.9 318.1 430.0 327.0 431.3 321.7 434.4z" fill="#22a884"/><path d="M462.0 414.8 467.0 409.9 476.1 410.5 471.2 415.6z" fill="#44bf70"/><path d="M229.1 431.0 234.7 429.1 243.5 430.8 238.0 432.8z" fill="#24aa83"/><path d="M513.5 401.5 518.4 395.9 527.6 396.2 522.8 401.9z" fill="#6ccd5a"/><path d="M373.3 429.6 378.4 425.8 387.4 426.9 382.3 430.8z" fill="#27ad81"/><path d="M252.3 432.6 257.7 430.4 266.6 432.0 261.1 434.3z" fill="#22a884"/><path d="M410.6 425.0 415.7 420.7 424.7 421.7 419.6 426.0z" fill="#2eb37c"/><path d="M335.9 432.7 341.2 429.4 350.1 430.7 344.9 434.1z" fill="#24aa83"/><path d="M447.9 418.8 452.9 414.1 462.0 414.8 457.0 419.7z" fill="#3dbc74"/><path d="M275.4 433.6 280.8 431.2 289.7 432.7 284.3 435.3z" fill="#22a884"/><path d="M499.4 406.5 504.3 401.1 513.5 401.5 508.6 407.0z" fill="#5ec962"/><path d="M298.6 434.3 303.9 431.5 312.8 432.9 307.5 435.9z" fill="#23a983"/><path d="M565.1 385.0 570.0 378.7 579.3 378.7 574.5 385.1z" fill="#a8db34"/><path d="M396.4 428.1 401.5 424.0 410.6 425.0 405.5 429.2z" fill="#2cb17e"/><path d="M485.3 411.2 490.2 405.9 499.4 406.5 494.5 411.8z" fill="#54c568"/><path d="M359.1 432.0 364.3 428.4 373.3 429.6 368.1 433.3z" fill="#26ad81"/><path d="M433.8 422.6 438.8 418.0 447.9 418.8 442.9 423.5z" fill="#37b878"/><path d="M168.4 425.6 174.1 424.5 182.9 426.5 177.2 427.7z" fill="#2db27d"/><path d="M191.6 428.5 197.3 427.1 206.0 429.0 200.4 430.5z" fill="#29af7f"/><path d="M551.0 390.9 555.8 384.8 565.1 385.0 560.3 391.1z" fill="#95d840"/><path d="M145.2 422.2 151.0 421.5 159.7 423.5 154.0 424.4z" fill="#32b67a"/><path d="M214.8 430.9 220.4 429.2 229.1 431.0 223.6 432.8z" fill="#26ad81"/><path d="M122.0 418.4 127.9 418.0 136.5 420.1 130.7 420.6z" fill="#3bbb75"/><path d="M321.7 434.4 327.0 431.3 335.9 432.7 330.7 435.9z" fill="#24aa83"/><path d="M238.0 432.8 243.5 430.8 252.3 432.6 246.8 434.7z" fill="#25ab82"/><path d="M536.9 396.5 541.7 390.7 551.0 390.9 546.2 396.9z" fill="#84d44b"/><path d="M471.2 415.6 476.1 410.5 485.3 411.2 480.4 416.3z" fill="#4ac16d"/><path d="M261.1 434.3 266.6 432.0 275.4 433.6 270.0 436.1z" fill="#24aa83"/><path d="M382.3 430.8 387.4 426.9 396.4 428.1 391.3 432.1z" fill="#29af7f"/><path d="M419.6 426.0 424.7 421.7 433.8 422.6 428.7 427.1z" fill="#32b67a"/><path d="M522.8 401.9 527.6 396.2 536.9 396.5 532.0 402.4z" fill="#73d056"/><path d="M344.9 434.1 350.1 430.7 359.1 432.0 353.9 435.6z" fill="#25ac82"/><path d="M284.3 435.3 289.7 432.7 298.6 434.3 293.2 437.0z" fill="#24aa83"/><path d="M457.0 419.7 462.0 414.8 471.2 415.6 466.2 420.6z" fill="#42be71"/><path d="M508.6 407.0 513.5 401.5 522.8 401.9 517.9 407.6z" fill="#67cc5c"/><path d="M307.5 435.9 312.8 432.9 321.7 434.4 316.4 437.5z" fill="#24aa83"/><path d="M405.5 429.2 410.6 425.0 419.6 426.0 414.6 430.4z" fill="#2fb47c"/><path d="M177.2 427.7 182.9 426.5 191.6 428.5 186.0 429.8z" fill="#2eb37c"/><path d="M200.4 430.5 206.0 429.0 214.8 430.9 209.2 432.5z" fill="#2ab07f"/><path d="M368.1 433.3 373.3 429.6 382.3 430.8 377.1 434.7z" fill="#28ae80"/><path d="M154.0 424.4 159.7 423.5 168.4 425.6 162.7 426.6z" fill="#34b679"/><path d="M223.6 432.8 229.1 431.0 238.0 432.8 232.4 434.8z" fill="#27ad81"/><path d="M494.5 411.8 499.4 406.5 508.6 407.0 503.7 412.5z" fill="#5ac864"/><path d="M130.7 420.6 136.5 420.1 145.2 422.2 139.4 422.9z" fill="#3bbb75"/><path d="M442.9 423.5 447.9 418.8 457.0 419.7 452.0 424.5z" fill="#3bbb75"/><path d="M246.8 434.7 252.3 432.6 261.1 434.3 255.7 436.5z" fill="#26ad81"/><path d="M560.3 391.1 565.1 385.0 574.5 385.1 569.7 391.4z" fill="#a0da39"/><path d="M330.7 435.9 335.9 432.7 344.9 434.1 339.6 437.5z" fill="#25ac82"/><path d="M270.0 436.1 275.4 433.6 284.3 435.3 278.9 437.9z" fill="#25ac82"/><path d="M480.4 416.3 485.3 411.2 494.5 411.8 489.5 417.1z" fill="#50c46a"/><path d="M546.2 396.9 551.0 390.9 560.3 391.1 555.5 397.3z" fill="#8ed645"/><path d="M391.3 432.1 396.4 428.1 405.5 429.2 400.4 433.4z" fill="#2db27d"/><path d="M428.7 427.1 433.8 422.6 442.9 423.5 437.9 428.2z" fill="#37b878"/><path d="M353.9 435.6 359.1 432.0 368.1 433.3 362.9 437.0z" fill="#27ad81"/><path d="M293.2 437.0 298.6 434.3 307.5 435.9 302.1 438.7z" fill="#25ac82"/><path d="M532.0 402.4 536.9 396.5 546.2 396.9 541.3 402.9z" fill="#7cd250"/><path d="M466.2 420.6 471.2 415.6 480.4 416.3 475.4 421.5z" fill="#48c16e"/><path d="M517.9 407.6 522.8 401.9 532.0 402.4 527.1 408.2z" fill="#6ece58"/><path d="M316.4 437.5 321.7 434.4 330.7 435.9 325.4 439.1z" fill="#25ac82"/><path d="M186.0 429.8 191.6 428.5 200.4 430.5 194.8 431.9z" fill="#2fb47c"/><path d="M162.7 426.6 168.4 425.6 177.2 427.7 171.5 428.8z" fill="#35b779"/><path d="M209.2 432.5 214.8 430.9 223.6 432.8 218.0 434.6z" fill="#2cb17e"/><path d="M414.6 430.4 419.6 426.0 428.7 427.1 423.7 431.6z" fill="#32b67a"/><path d="M139.4 422.9 145.2 422.2 154.0 424.4 148.2 425.2z" fill="#3dbc74"/><path d="M232.4 434.8 238.0 432.8 246.8 434.7 241.3 436.7z" fill="#29af7f"/><path d="M377.1 434.7 382.3 430.8 391.3 432.1 386.2 436.1z" fill="#2ab07f"/><path d="M116.1 418.8 122.0 418.4 130.7 420.6 124.9 421.1z" fill="#48c16e"/><path d="M255.7 436.5 261.1 434.3 270.0 436.1 264.5 438.5z" fill="#27ad81"/><path d="M452.0 424.5 457.0 419.7 466.2 420.6 461.2 425.5z" fill="#40bd72"/><path d="M503.7 412.5 508.6 407.0 517.9 407.6 513.0 413.2z" fill="#63cb5f"/><path d="M339.6 437.5 344.9 434.1 353.9 435.6 348.6 439.0z" fill="#27ad81"/><path d="M278.9 437.9 284.3 435.3 293.2 437.0 287.8 439.7z" fill="#26ad81"/><path d="M489.5 417.1 494.5 411.8 503.7 412.5 498.8 417.9z" fill="#58c765"/><path d="M400.4 433.4 405.5 429.2 414.6 430.4 409.5 434.7z" fill="#2fb47c"/><path d="M555.5 397.3 560.3 391.1 569.7 391.4 564.8 397.7z" fill="#98d83e"/><path d="M302.1 438.7 307.5 435.9 316.4 437.5 311.1 440.5z" fill="#26ad81"/><path d="M437.9 428.2 442.9 423.5 452.0 424.5 447.0 429.3z" fill="#3bbb75"/><path d="M362.9 437.0 368.1 433.3 377.1 434.7 371.9 438.5z" fill="#29af7f"/><path d="M541.3 402.9 546.2 396.9 555.5 397.3 550.6 403.4z" fill="#86d549"/><path d="M475.4 421.5 480.4 416.3 489.5 417.1 484.6 422.4z" fill="#4ec36b"/><path d="M194.8 431.9 200.4 430.5 209.2 432.5 203.6 434.1z" fill="#31b57b"/><path d="M171.5 428.8 177.2 427.7 186.0 429.8 180.3 431.0z" fill="#37b878"/><path d="M325.4 439.1 330.7 435.9 339.6 437.5 334.4 440.8z" fill="#27ad81"/><path d="M218.0 434.6 223.6 432.8 232.4 434.8 226.9 436.6z" fill="#2db27d"/><path d="M148.2 425.2 154.0 424.4 162.7 426.6 156.9 427.5z" fill="#3fbc73"/><path d="M241.3 436.7 246.8 434.7 255.7 436.5 250.2 438.7z" fill="#2ab07f"/><path d="M527.1 408.2 532.0 402.4 541.3 402.9 536.4 408.8z" fill="#77d153"/><path d="M386.2 436.1 391.3 432.1 400.4 433.4 395.2 437.5z" fill="#2eb37c"/><path d="M423.7 431.6 428.7 427.1 437.9 428.2 432.8 432.8z" fill="#37b878"/><path d="M124.9 421.1 130.7 420.6 139.4 422.9 133.6 423.5z" fill="#48c16e"/><path d="M264.5 438.5 270.0 436.1 278.9 437.9 273.5 440.4z" fill="#28ae80"/><path d="M348.6 439.0 353.9 435.6 362.9 437.0 357.7 440.6z" fill="#29af7f"/><path d="M461.2 425.5 466.2 420.6 475.4 421.5 470.4 426.6z" fill="#46c06f"/><path d="M513.0 413.2 517.9 407.6 527.1 408.2 522.2 413.9z" fill="#69cd5b"/><path d="M287.8 439.7 293.2 437.0 302.1 438.7 296.8 441.6z" fill="#28ae80"/><path d="M409.5 434.7 414.6 430.4 423.7 431.6 418.6 436.0z" fill="#34b679"/><path d="M311.1 440.5 316.4 437.5 325.4 439.1 320.1 442.3z" fill="#28ae80"/><path d="M498.8 417.9 503.7 412.5 513.0 413.2 508.0 418.8z" fill="#5ec962"/><path d="M371.9 438.5 377.1 434.7 386.2 436.1 381.0 440.0z" fill="#2db27d"/><path d="M447.0 429.3 452.0 424.5 461.2 425.5 456.2 430.4z" fill="#40bd72"/><path d="M203.6 434.1 209.2 432.5 218.0 434.6 212.4 436.2z" fill="#32b67a"/><path d="M180.3 431.0 186.0 429.8 194.8 431.9 189.1 433.3z" fill="#38b977"/><path d="M226.9 436.6 232.4 434.8 241.3 436.7 235.8 438.8z" fill="#2eb37c"/><path d="M156.9 427.5 162.7 426.6 171.5 428.8 165.7 429.8z" fill="#40bd72"/><path d="M550.6 403.4 555.5 397.3 564.8 397.7 560.0 403.9z" fill="#90d743"/><path d="M334.4 440.8 339.6 437.5 348.6 439.0 343.4 442.5z" fill="#29af7f"/><path d="M484.6 422.4 489.5 417.1 498.8 417.9 493.8 423.3z" fill="#54c568"/><path d="M250.2 438.7 255.7 436.5 264.5 438.5 259.1 440.8z" fill="#2cb17e"/><path d="M133.6 423.5 139.4 422.9 148.2 425.2 142.4 425.9z" fill="#4ac16d"/><path d="M395.2 437.5 400.4 433.4 409.5 434.7 404.3 438.9z" fill="#31b57b"/><path d="M273.5 440.4 278.9 437.9 287.8 439.7 282.4 442.3z" fill="#2ab07f"/><path d="M536.4 408.8 541.3 402.9 550.6 403.4 545.8 409.4z" fill="#81d34d"/><path d="M432.8 432.8 437.9 428.2 447.0 429.3 441.9 434.0z" fill="#3bbb75"/><path d="M110.2 419.0 116.1 418.8 124.9 421.1 119.0 421.5z" fill="#56c667"/><path d="M357.7 440.6 362.9 437.0 371.9 438.5 366.7 442.3z" fill="#2cb17e"/><path d="M470.4 426.6 475.4 421.5 484.6 422.4 479.6 427.6z" fill="#4cc26c"/><path d="M296.8 441.6 302.1 438.7 311.1 440.5 305.7 443.4z" fill="#29af7f"/><path d="M522.2 413.9 527.1 408.2 536.4 408.8 531.5 414.7z" fill="#73d056"/><path d="M320.1 442.3 325.4 439.1 334.4 440.8 329.1 444.1z" fill="#2ab07f"/><path d="M418.6 436.0 423.7 431.6 432.8 432.8 427.7 437.4z" fill="#37b878"/><path d="M381.0 440.0 386.2 436.1 395.2 437.5 390.1 441.6z" fill="#2fb47c"/><path d="M508.0 418.8 513.0 413.2 522.2 413.9 517.3 419.6z" fill="#65cb5e"/><path d="M456.2 430.4 461.2 425.5 470.4 426.6 465.4 431.6z" fill="#44bf70"/><path d="M189.1 433.3 194.8 431.9 203.6 434.1 197.9 435.6z" fill="#3aba76"/><path d="M212.4 436.2 218.0 434.6 226.9 436.6 221.3 438.5z" fill="#34b679"/><path d="M165.7 429.8 171.5 428.8 180.3 431.0 174.5 432.2z" fill="#40bd72"/><path d="M235.8 438.8 241.3 436.7 250.2 438.7 244.6 440.9z" fill="#2fb47c"/><path d="M343.4 442.5 348.6 439.0 357.7 440.6 352.4 444.2z" fill="#2cb17e"/><path d="M142.4 425.9 148.2 425.2 156.9 427.5 151.1 428.4z" fill="#4ac16d"/><path d="M259.1 440.8 264.5 438.5 273.5 440.4 268.0 442.9z" fill="#2db27d"/><path d="M493.8 423.3 498.8 417.9 508.0 418.8 503.1 424.3z" fill="#5ac864"/><path d="M119.0 421.5 124.9 421.1 133.6 423.5 127.7 424.0z" fill="#58c765"/><path d="M282.4 442.3 287.8 439.7 296.8 441.6 291.4 444.3z" fill="#2cb17e"/><path d="M404.3 438.9 409.5 434.7 418.6 436.0 413.5 440.4z" fill="#34b679"/><path d="M441.9 434.0 447.0 429.3 456.2 430.4 451.1 435.3z" fill="#3fbc73"/><path d="M545.8 409.4 550.6 403.4 560.0 403.9 555.1 410.1z" fill="#89d548"/><path d="M366.7 442.3 371.9 438.5 381.0 440.0 375.8 443.9z" fill="#2eb37c"/><path d="M305.7 443.4 311.1 440.5 320.1 442.3 314.7 445.4z" fill="#2cb17e"/><path d="M479.6 427.6 484.6 422.4 493.8 423.3 488.8 428.7z" fill="#52c569"/><path d="M531.5 414.7 536.4 408.8 545.8 409.4 540.9 415.5z" fill="#7ad151"/><path d="M329.1 444.1 334.4 440.8 343.4 442.5 338.1 445.9z" fill="#2cb17e"/><path d="M427.7 437.4 432.8 432.8 441.9 434.0 436.9 438.7z" fill="#3bbb75"/><path d="M390.1 441.6 395.2 437.5 404.3 438.9 399.2 443.1z" fill="#32b67a"/><path d="M197.9 435.6 203.6 434.1 212.4 436.2 206.8 437.9z" fill="#3aba76"/><path d="M221.3 438.5 226.9 436.6 235.8 438.8 230.2 440.7z" fill="#35b779"/><path d="M174.5 432.2 180.3 431.0 189.1 433.3 183.4 434.6z" fill="#42be71"/><path d="M244.6 440.9 250.2 438.7 259.1 440.8 253.6 443.1z" fill="#31b57b"/><path d="M517.3 419.6 522.2 413.9 531.5 414.7 526.6 420.5z" fill="#6ccd5a"/><path d="M465.4 431.6 470.4 426.6 479.6 427.6 474.6 432.8z" fill="#4ac16d"/><path d="M151.1 428.4 156.9 427.5 165.7 429.8 160.0 430.8z" fill="#4cc26c"/><path d="M268.0 442.9 273.5 440.4 282.4 442.3 277.0 444.9z" fill="#2eb37c"/><path d="M352.4 444.2 357.7 440.6 366.7 442.3 361.5 446.0z" fill="#2eb37c"/><path d="M127.7 424.0 133.6 423.5 142.4 425.9 136.5 426.6z" fill="#58c765"/><path d="M291.4 444.3 296.8 441.6 305.7 443.4 300.3 446.4z" fill="#2db27d"/><path d="M503.1 424.3 508.0 418.8 517.3 419.6 512.4 425.3z" fill="#60ca60"/><path d="M413.5 440.4 418.6 436.0 427.7 437.4 422.6 441.9z" fill="#37b878"/><path d="M104.3 419.3 110.2 419.0 119.0 421.5 113.0 421.9z" fill="#67cc5c"/><path d="M451.1 435.3 456.2 430.4 465.4 431.6 460.3 436.6z" fill="#44bf70"/><path d="M375.8 443.9 381.0 440.0 390.1 441.6 384.9 445.6z" fill="#31b57b"/><path d="M314.7 445.4 320.1 442.3 329.1 444.1 323.7 447.3z" fill="#2db27d"/><path d="M488.8 428.7 493.8 423.3 503.1 424.3 498.1 429.8z" fill="#58c765"/><path d="M338.1 445.9 343.4 442.5 352.4 444.2 347.1 447.8z" fill="#2eb37c"/><path d="M540.9 415.5 545.8 409.4 555.1 410.1 550.2 416.3z" fill="#81d34d"/><path d="M206.8 437.9 212.4 436.2 221.3 438.5 215.7 440.2z" fill="#3bbb75"/><path d="M230.2 440.7 235.8 438.8 244.6 440.9 239.1 443.0z" fill="#37b878"/><path d="M183.4 434.6 189.1 433.3 197.9 435.6 192.2 437.0z" fill="#42be71"/><path d="M436.9 438.7 441.9 434.0 451.1 435.3 446.1 440.1z" fill="#3fbc73"/><path d="M399.2 443.1 404.3 438.9 413.5 440.4 408.3 444.7z" fill="#35b779"/><path d="M253.6 443.1 259.1 440.8 268.0 442.9 262.5 445.3z" fill="#32b67a"/><path d="M160.0 430.8 165.7 429.8 174.5 432.2 168.8 433.3z" fill="#4cc26c"/><path d="M277.0 444.9 282.4 442.3 291.4 444.3 285.9 447.1z" fill="#31b57b"/><path d="M474.6 432.8 479.6 427.6 488.8 428.7 483.9 434.0z" fill="#50c46a"/><path d="M526.6 420.5 531.5 414.7 540.9 415.5 536.0 421.4z" fill="#75d054"/><path d="M136.5 426.6 142.4 425.9 151.1 428.4 145.3 429.2z" fill="#58c765"/><path d="M361.5 446.0 366.7 442.3 375.8 443.9 370.6 447.8z" fill="#2fb47c"/><path d="M300.3 446.4 305.7 443.4 314.7 445.4 309.3 448.4z" fill="#2fb47c"/><path d="M113.0 421.9 119.0 421.5 127.7 424.0 121.8 424.5z" fill="#67cc5c"/><path d="M512.4 425.3 517.3 419.6 526.6 420.5 521.7 426.3z" fill="#67cc5c"/><path d="M422.6 441.9 427.7 437.4 436.9 438.7 431.8 443.4z" fill="#3bbb75"/><path d="M323.7 447.3 329.1 444.1 338.1 445.9 332.8 449.3z" fill="#2fb47c"/><path d="M460.3 436.6 465.4 431.6 474.6 432.8 469.6 437.9z" fill="#48c16e"/><path d="M384.9 445.6 390.1 441.6 399.2 443.1 394.0 447.3z" fill="#34b679"/><path d="M498.1 429.8 503.1 424.3 512.4 425.3 507.4 430.9z" fill="#5ec962"/><path d="M347.1 447.8 352.4 444.2 361.5 446.0 356.2 449.7z" fill="#2fb47c"/><path d="M215.7 440.2 221.3 438.5 230.2 440.7 224.6 442.6z" fill="#3dbc74"/><path d="M192.2 437.0 197.9 435.6 206.8 437.9 201.1 439.5z" fill="#44bf70"/><path d="M239.1 443.0 244.6 440.9 253.6 443.1 248.0 445.3z" fill="#38b977"/><path d="M168.8 433.3 174.5 432.2 183.4 434.6 177.6 435.9z" fill="#4ec36b"/><path d="M262.5 445.3 268.0 442.9 277.0 444.9 271.5 447.5z" fill="#34b679"/><path d="M408.3 444.7 413.5 440.4 422.6 441.9 417.5 446.3z" fill="#38b977"/><path d="M446.1 440.1 451.1 435.3 460.3 436.6 455.3 441.6z" fill="#42be71"/><path d="M145.3 429.2 151.1 428.4 160.0 430.8 154.1 431.8z" fill="#58c765"/><path d="M285.9 447.1 291.4 444.3 300.3 446.4 294.9 449.2z" fill="#32b67a"/><path d="M370.6 447.8 375.8 443.9 384.9 445.6 379.7 449.6z" fill="#32b67a"/><path d="M483.9 434.0 488.8 428.7 498.1 429.8 493.1 435.3z" fill="#54c568"/><path d="M536.0 421.4 540.9 415.5 550.2 416.3 545.3 422.4z" fill="#7cd250"/><path d="M121.8 424.5 127.7 424.0 136.5 426.6 130.6 427.2z" fill="#67cc5c"/><path d="M309.3 448.4 314.7 445.4 323.7 447.3 318.4 450.5z" fill="#31b57b"/><path d="M98.3 419.4 104.3 419.3 113.0 421.9 107.1 422.2z" fill="#77d153"/><path d="M431.8 443.4 436.9 438.7 446.1 440.1 441.0 444.9z" fill="#3fbc73"/><path d="M332.8 449.3 338.1 445.9 347.1 447.8 341.8 451.3z" fill="#31b57b"/><path d="M521.7 426.3 526.6 420.5 536.0 421.4 531.0 427.4z" fill="#6ece58"/><path d="M394.0 447.3 399.2 443.1 408.3 444.7 403.2 449.0z" fill="#35b779"/><path d="M469.6 437.9 474.6 432.8 483.9 434.0 478.8 439.3z" fill="#4ec36b"/><path d="M224.6 442.6 230.2 440.7 239.1 443.0 233.5 445.0z" fill="#3dbc74"/><path d="M201.1 439.5 206.8 437.9 215.7 440.2 210.0 442.0z" fill="#44bf70"/><path d="M248.0 445.3 253.6 443.1 262.5 445.3 257.0 447.6z" fill="#38b977"/><path d="M356.2 449.7 361.5 446.0 370.6 447.8 365.3 451.6z" fill="#32b67a"/><path d="M177.6 435.9 183.4 434.6 192.2 437.0 186.5 438.4z" fill="#4ec36b"/><path d="M507.4 430.9 512.4 425.3 521.7 426.3 516.7 432.1z" fill="#63cb5f"/><path d="M271.5 447.5 277.0 444.9 285.9 447.1 280.5 449.7z" fill="#35b779"/><path d="M154.1 431.8 160.0 430.8 168.8 433.3 163.0 434.4z" fill="#5ac864"/><path d="M417.5 446.3 422.6 441.9 431.8 443.4 426.7 448.0z" fill="#3bbb75"/><path d="M294.9 449.2 300.3 446.4 309.3 448.4 304.0 451.4z" fill="#34b679"/><path d="M455.3 441.6 460.3 436.6 469.6 437.9 464.5 443.0z" fill="#46c06f"/><path d="M130.6 427.2 136.5 426.6 145.3 429.2 139.4 429.9z" fill="#67cc5c"/><path d="M379.7 449.6 384.9 445.6 394.0 447.3 388.8 451.4z" fill="#35b779"/><path d="M318.4 450.5 323.7 447.3 332.8 449.3 327.4 452.6z" fill="#32b67a"/><path d="M493.1 435.3 498.1 429.8 507.4 430.9 502.4 436.5z" fill="#5ac864"/><path d="M107.1 422.2 113.0 421.9 121.8 424.5 115.9 425.0z" fill="#77d153"/><path d="M341.8 451.3 347.1 447.8 356.2 449.7 350.9 453.3z" fill="#32b67a"/><path d="M441.0 444.9 446.1 440.1 455.3 441.6 450.2 446.5z" fill="#42be71"/><path d="M403.2 449.0 408.3 444.7 417.5 446.3 412.3 450.8z" fill="#38b977"/><path d="M531.0 427.4 536.0 421.4 545.3 422.4 540.4 428.5z" fill="#75d054"/><path d="M478.8 439.3 483.9 434.0 493.1 435.3 488.1 440.7z" fill="#52c569"/><path d="M233.5 445.0 239.1 443.0 248.0 445.3 242.5 447.5z" fill="#3fbc73"/><path d="M210.0 442.0 215.7 440.2 224.6 442.6 219.0 444.5z" fill="#46c06f"/><path d="M257.0 447.6 262.5 445.3 271.5 447.5 266.0 450.0z" fill="#3aba76"/><path d="M186.5 438.4 192.2 437.0 201.1 439.5 195.4 441.0z" fill="#4ec36b"/><path d="M365.3 451.6 370.6 447.8 379.7 449.6 374.4 453.5z" fill="#34b679"/><path d="M280.5 449.7 285.9 447.1 294.9 449.2 289.5 452.0z" fill="#37b878"/><path d="M163.0 434.4 168.8 433.3 177.6 435.9 171.9 437.1z" fill="#5ac864"/><path d="M516.7 432.1 521.7 426.3 531.0 427.4 526.1 433.3z" fill="#69cd5b"/><path d="M304.0 451.4 309.3 448.4 318.4 450.5 313.0 453.6z" fill="#35b779"/><path d="M426.7 448.0 431.8 443.4 441.0 444.9 435.9 449.7z" fill="#3fbc73"/><path d="M139.4 429.9 145.3 429.2 154.1 431.8 148.3 432.7z" fill="#67cc5c"/><path d="M464.5 443.0 469.6 437.9 478.8 439.3 473.8 444.5z" fill="#4cc26c"/><path d="M388.8 451.4 394.0 447.3 403.2 449.0 398.0 453.3z" fill="#37b878"/><path d="M327.4 452.6 332.8 449.3 341.8 451.3 336.5 454.7z" fill="#34b679"/><path d="M115.9 425.0 121.8 424.5 130.6 427.2 124.7 427.8z" fill="#77d153"/><path d="M502.4 436.5 507.4 430.9 516.7 432.1 511.8 437.8z" fill="#60ca60"/><path d="M350.9 453.3 356.2 449.7 365.3 451.6 360.0 455.3z" fill="#35b779"/><path d="M450.2 446.5 455.3 441.6 464.5 443.0 459.5 448.1z" fill="#46c06f"/><path d="M412.3 450.8 417.5 446.3 426.7 448.0 421.5 452.6z" fill="#3bbb75"/><path d="M219.0 444.5 224.6 442.6 233.5 445.0 227.9 447.0z" fill="#46c06f"/><path d="M242.5 447.5 248.0 445.3 257.0 447.6 251.5 449.9z" fill="#3fbc73"/><path d="M195.4 441.0 201.1 439.5 210.0 442.0 204.3 443.6z" fill="#50c46a"/><path d="M266.0 450.0 271.5 447.5 280.5 449.7 275.0 452.4z" fill="#3bbb75"/><path d="M488.1 440.7 493.1 435.3 502.4 436.5 497.4 442.1z" fill="#56c667"/><path d="M171.9 437.1 177.6 435.9 186.5 438.4 180.8 439.8z" fill="#5ac864"/><path d="M289.5 452.0 294.9 449.2 304.0 451.4 298.5 454.3z" fill="#38b977"/><path d="M374.4 453.5 379.7 449.6 388.8 451.4 383.6 455.5z" fill="#37b878"/><path d="M148.3 432.7 154.1 431.8 163.0 434.4 157.2 435.4z" fill="#67cc5c"/><path d="M313.0 453.6 318.4 450.5 327.4 452.6 322.1 455.8z" fill="#37b878"/><path d="M526.1 433.3 531.0 427.4 540.4 428.5 535.5 434.5z" fill="#70cf57"/><path d="M435.9 449.7 441.0 444.9 450.2 446.5 445.1 451.4z" fill="#40bd72"/><path d="M473.8 444.5 478.8 439.3 488.1 440.7 483.1 446.0z" fill="#50c46a"/><path d="M124.7 427.8 130.6 427.2 139.4 429.9 133.5 430.6z" fill="#77d153"/><path d="M398.0 453.3 403.2 449.0 412.3 450.8 407.2 455.2z" fill="#3aba76"/><path d="M336.5 454.7 341.8 451.3 350.9 453.3 345.6 456.9z" fill="#35b779"/><path d="M511.8 437.8 516.7 432.1 526.1 433.3 521.1 439.1z" fill="#65cb5e"/><path d="M360.0 455.3 365.3 451.6 374.4 453.5 369.2 457.4z" fill="#37b878"/><path d="M227.9 447.0 233.5 445.0 242.5 447.5 236.9 449.6z" fill="#46c06f"/><path d="M251.5 449.9 257.0 447.6 266.0 450.0 260.5 452.4z" fill="#40bd72"/><path d="M204.3 443.6 210.0 442.0 219.0 444.5 213.3 446.3z" fill="#50c46a"/><path d="M459.5 448.1 464.5 443.0 473.8 444.5 468.8 449.7z" fill="#4ac16d"/><path d="M421.5 452.6 426.7 448.0 435.9 449.7 430.8 454.4z" fill="#3fbc73"/><path d="M275.0 452.4 280.5 449.7 289.5 452.0 284.0 454.8z" fill="#3bbb75"/><path d="M180.8 439.8 186.5 438.4 195.4 441.0 189.7 442.5z" fill="#5ac864"/><path d="M298.5 454.3 304.0 451.4 313.0 453.6 307.6 456.7z" fill="#38b977"/><path d="M497.4 442.1 502.4 436.5 511.8 437.8 506.8 443.5z" fill="#5cc863"/><path d="M383.6 455.5 388.8 451.4 398.0 453.3 392.8 457.5z" fill="#38b977"/><path d="M157.2 435.4 163.0 434.4 171.9 437.1 166.1 438.2z" fill="#67cc5c"/><path d="M322.1 455.8 327.4 452.6 336.5 454.7 331.2 458.1z" fill="#37b878"/><path d="M133.5 430.6 139.4 429.9 148.3 432.7 142.4 433.5z" fill="#77d153"/><path d="M445.1 451.4 450.2 446.5 459.5 448.1 454.4 453.1z" fill="#44bf70"/><path d="M345.6 456.9 350.9 453.3 360.0 455.3 354.8 459.0z" fill="#37b878"/><path d="M407.2 455.2 412.3 450.8 421.5 452.6 416.4 457.1z" fill="#3bbb75"/><path d="M483.1 446.0 488.1 440.7 497.4 442.1 492.4 447.6z" fill="#54c568"/><path d="M369.2 457.4 374.4 453.5 383.6 455.5 378.3 459.5z" fill="#38b977"/><path d="M521.1 439.1 526.1 433.3 535.5 434.5 530.5 440.5z" fill="#6ccd5a"/><path d="M236.9 449.6 242.5 447.5 251.5 449.9 245.9 452.2z" fill="#48c16e"/><path d="M260.5 452.4 266.0 450.0 275.0 452.4 269.5 455.0z" fill="#40bd72"/><path d="M213.3 446.3 219.0 444.5 227.9 447.0 222.3 449.0z" fill="#50c46a"/><path d="M284.0 454.8 289.5 452.0 298.5 454.3 293.1 457.2z" fill="#3dbc74"/><path d="M189.7 442.5 195.4 441.0 204.3 443.6 198.6 445.2z" fill="#5ac864"/><path d="M430.8 454.4 435.9 449.7 445.1 451.4 440.0 456.2z" fill="#40bd72"/><path d="M468.8 449.7 473.8 444.5 483.1 446.0 478.1 451.4z" fill="#4ec36b"/><path d="M307.6 456.7 313.0 453.6 322.1 455.8 316.7 459.1z" fill="#3aba76"/><path d="M166.1 438.2 171.9 437.1 180.8 439.8 175.0 441.1z" fill="#67cc5c"/><path d="M392.8 457.5 398.0 453.3 407.2 455.2 402.0 459.5z" fill="#3aba76"/><path d="M506.8 443.5 511.8 437.8 521.1 439.1 516.1 445.0z" fill="#60ca60"/><path d="M331.2 458.1 336.5 454.7 345.6 456.9 340.3 460.4z" fill="#38b977"/><path d="M142.4 433.5 148.3 432.7 157.2 435.4 151.3 436.4z" fill="#75d054"/><path d="M454.4 453.1 459.5 448.1 468.8 449.7 463.7 454.9z" fill="#48c16e"/><path d="M354.8 459.0 360.0 455.3 369.2 457.4 363.9 461.3z" fill="#38b977"/><path d="M416.4 457.1 421.5 452.6 430.8 454.4 425.6 459.0z" fill="#3fbc73"/><path d="M492.4 447.6 497.4 442.1 506.8 443.5 501.8 449.2z" fill="#58c765"/><path d="M245.9 452.2 251.5 449.9 260.5 452.4 254.9 454.8z" fill="#48c16e"/><path d="M222.3 449.0 227.9 447.0 236.9 449.6 231.3 451.7z" fill="#50c46a"/><path d="M378.3 459.5 383.6 455.5 392.8 457.5 387.5 461.7z" fill="#3aba76"/><path d="M269.5 455.0 275.0 452.4 284.0 454.8 278.5 457.5z" fill="#42be71"/><path d="M198.6 445.2 204.3 443.6 213.3 446.3 207.6 448.0z" fill="#5ac864"/><path d="M293.1 457.2 298.5 454.3 307.6 456.7 302.2 459.7z" fill="#3dbc74"/><path d="M440.0 456.2 445.1 451.4 454.4 453.1 449.3 458.1z" fill="#44bf70"/><path d="M175.0 441.1 180.8 439.8 189.7 442.5 183.9 443.9z" fill="#67cc5c"/><path d="M316.7 459.1 322.1 455.8 331.2 458.1 325.8 461.4z" fill="#3bbb75"/><path d="M478.1 451.4 483.1 446.0 492.4 447.6 487.4 453.0z" fill="#52c569"/><path d="M402.0 459.5 407.2 455.2 416.4 457.1 411.2 461.6z" fill="#3dbc74"/><path d="M151.3 436.4 157.2 435.4 166.1 438.2 160.2 439.3z" fill="#75d054"/><path d="M340.3 460.4 345.6 456.9 354.8 459.0 349.4 462.7z" fill="#3aba76"/><path d="M516.1 445.0 521.1 439.1 530.5 440.5 525.5 446.5z" fill="#65cb5e"/><path d="M363.9 461.3 369.2 457.4 378.3 459.5 373.1 463.5z" fill="#3aba76"/><path d="M463.7 454.9 468.8 449.7 478.1 451.4 473.0 456.7z" fill="#4cc26c"/><path d="M425.6 459.0 430.8 454.4 440.0 456.2 434.9 461.0z" fill="#40bd72"/><path d="M501.8 449.2 506.8 443.5 516.1 445.0 511.2 450.7z" fill="#5cc863"/><path d="M254.9 454.8 260.5 452.4 269.5 455.0 263.9 457.5z" fill="#48c16e"/><path d="M231.3 451.7 236.9 449.6 245.9 452.2 240.3 454.4z" fill="#50c46a"/><path d="M278.5 457.5 284.0 454.8 293.1 457.2 287.6 460.1z" fill="#42be71"/><path d="M207.6 448.0 213.3 446.3 222.3 449.0 216.6 450.8z" fill="#5ac864"/><path d="M387.5 461.7 392.8 457.5 402.0 459.5 396.8 463.8z" fill="#3bbb75"/><path d="M302.2 459.7 307.6 456.7 316.7 459.1 311.3 462.2z" fill="#3fbc73"/><path d="M183.9 443.9 189.7 442.5 198.6 445.2 192.9 446.8z" fill="#65cb5e"/><path d="M325.8 461.4 331.2 458.1 340.3 460.4 334.9 463.9z" fill="#3dbc74"/><path d="M449.3 458.1 454.4 453.1 463.7 454.9 458.6 460.0z" fill="#46c06f"/><path d="M487.4 453.0 492.4 447.6 501.8 449.2 496.8 454.8z" fill="#56c667"/><path d="M160.2 439.3 166.1 438.2 175.0 441.1 169.2 442.3z" fill="#75d054"/><path d="M411.2 461.6 416.4 457.1 425.6 459.0 420.4 463.7z" fill="#3fbc73"/><path d="M349.4 462.7 354.8 459.0 363.9 461.3 358.6 465.1z" fill="#3bbb75"/><path d="M373.1 463.5 378.3 459.5 387.5 461.7 382.3 465.8z" fill="#3bbb75"/><path d="M473.0 456.7 478.1 451.4 487.4 453.0 482.3 458.5z" fill="#50c46a"/><path d="M434.9 461.0 440.0 456.2 449.3 458.1 444.2 463.0z" fill="#44bf70"/><path d="M263.9 457.5 269.5 455.0 278.5 457.5 273.0 460.2z" fill="#48c16e"/><path d="M240.3 454.4 245.9 452.2 254.9 454.8 249.3 457.2z" fill="#50c46a"/><path d="M287.6 460.1 293.1 457.2 302.2 459.7 296.7 462.7z" fill="#44bf70"/><path d="M216.6 450.8 222.3 449.0 231.3 451.7 225.6 453.7z" fill="#5ac864"/><path d="M511.2 450.7 516.1 445.0 525.5 446.5 520.6 452.4z" fill="#60ca60"/><path d="M396.8 463.8 402.0 459.5 411.2 461.6 406.0 466.0z" fill="#3dbc74"/><path d="M311.3 462.2 316.7 459.1 325.8 461.4 320.4 464.8z" fill="#3fbc73"/><path d="M192.9 446.8 198.6 445.2 207.6 448.0 201.9 449.7z" fill="#65cb5e"/><path d="M334.9 463.9 340.3 460.4 349.4 462.7 344.1 466.3z" fill="#3dbc74"/><path d="M169.2 442.3 175.0 441.1 183.9 443.9 178.1 445.3z" fill="#73d056"/><path d="M458.6 460.0 463.7 454.9 473.0 456.7 467.9 461.9z" fill="#4ac16d"/><path d="M496.8 454.8 501.8 449.2 511.2 450.7 506.1 456.5z" fill="#5ac864"/><path d="M420.4 463.7 425.6 459.0 434.9 461.0 429.7 465.8z" fill="#40bd72"/><path d="M358.6 465.1 363.9 461.3 373.1 463.5 367.8 467.4z" fill="#3dbc74"/><path d="M382.3 465.8 387.5 461.7 396.8 463.8 391.5 468.1z" fill="#3dbc74"/><path d="M249.3 457.2 254.9 454.8 263.9 457.5 258.4 460.0z" fill="#50c46a"/><path d="M273.0 460.2 278.5 457.5 287.6 460.1 282.1 462.9z" fill="#4ac16d"/><path d="M482.3 458.5 487.4 453.0 496.8 454.8 491.7 460.3z" fill="#52c569"/><path d="M444.2 463.0 449.3 458.1 458.6 460.0 453.5 465.0z" fill="#46c06f"/><path d="M225.6 453.7 231.3 451.7 240.3 454.4 234.6 456.5z" fill="#5ac864"/><path d="M296.7 462.7 302.2 459.7 311.3 462.2 305.8 465.3z" fill="#44bf70"/><path d="M201.9 449.7 207.6 448.0 216.6 450.8 210.9 452.7z" fill="#65cb5e"/><path d="M320.4 464.8 325.8 461.4 334.9 463.9 329.5 467.3z" fill="#40bd72"/><path d="M406.0 466.0 411.2 461.6 420.4 463.7 415.3 468.2z" fill="#3fbc73"/><path d="M178.1 445.3 183.9 443.9 192.9 446.8 187.1 448.3z" fill="#73d056"/><path d="M344.1 466.3 349.4 462.7 358.6 465.1 353.3 468.8z" fill="#3fbc73"/><path d="M467.9 461.9 473.0 456.7 482.3 458.5 477.3 463.9z" fill="#4cc26c"/><path d="M367.8 467.4 373.1 463.5 382.3 465.8 377.0 469.8z" fill="#3dbc74"/><path d="M429.7 465.8 434.9 461.0 444.2 463.0 439.0 467.9z" fill="#42be71"/><path d="M506.1 456.5 511.2 450.7 520.6 452.4 515.5 458.2z" fill="#5cc863"/><path d="M391.5 468.1 396.8 463.8 406.0 466.0 400.8 470.4z" fill="#3fbc73"/><path d="M258.4 460.0 263.9 457.5 273.0 460.2 267.5 462.8z" fill="#50c46a"/><path d="M282.1 462.9 287.6 460.1 296.7 462.7 291.2 465.6z" fill="#4ac16d"/><path d="M234.6 456.5 240.3 454.4 249.3 457.2 243.7 459.4z" fill="#5ac864"/><path d="M305.8 465.3 311.3 462.2 320.4 464.8 315.0 468.0z" fill="#44bf70"/><path d="M453.5 465.0 458.6 460.0 467.9 461.9 462.8 467.1z" fill="#48c16e"/><path d="M491.7 460.3 496.8 454.8 506.1 456.5 501.1 462.2z" fill="#56c667"/><path d="M210.9 452.7 216.6 450.8 225.6 453.7 219.9 455.6z" fill="#65cb5e"/><path d="M329.5 467.3 334.9 463.9 344.1 466.3 338.7 469.9z" fill="#40bd72"/><path d="M415.3 468.2 420.4 463.7 429.7 465.8 424.5 470.5z" fill="#40bd72"/><path d="M187.1 448.3 192.9 446.8 201.9 449.7 196.1 451.4z" fill="#73d056"/><path d="M353.3 468.8 358.6 465.1 367.8 467.4 362.5 471.3z" fill="#3fbc73"/><path d="M477.3 463.9 482.3 458.5 491.7 460.3 486.6 465.8z" fill="#50c46a"/><path d="M377.0 469.8 382.3 465.8 391.5 468.1 386.2 472.3z" fill="#3fbc73"/><path d="M439.0 467.9 444.2 463.0 453.5 465.0 448.3 470.1z" fill="#44bf70"/><path d="M400.8 470.4 406.0 466.0 415.3 468.2 410.0 472.8z" fill="#40bd72"/><path d="M267.5 462.8 273.0 460.2 282.1 462.9 276.6 465.6z" fill="#50c46a"/><path d="M291.2 465.6 296.7 462.7 305.8 465.3 300.4 468.4z" fill="#4ac16d"/><path d="M243.7 459.4 249.3 457.2 258.4 460.0 252.8 462.4z" fill="#58c765"/><path d="M315.0 468.0 320.4 464.8 329.5 467.3 324.1 470.7z" fill="#44bf70"/><path d="M219.9 455.6 225.6 453.7 234.6 456.5 229.0 458.6z" fill="#63cb5f"/><path d="M462.8 467.1 467.9 461.9 477.3 463.9 472.2 469.2z" fill="#4cc26c"/><path d="M338.7 469.9 344.1 466.3 353.3 468.8 347.9 472.5z" fill="#42be71"/><path d="M501.1 462.2 506.1 456.5 515.5 458.2 510.5 464.1z" fill="#58c765"/><path d="M196.1 451.4 201.9 449.7 210.9 452.7 205.2 454.4z" fill="#70cf57"/><path d="M424.5 470.5 429.7 465.8 439.0 467.9 433.9 472.8z" fill="#42be71"/><path d="M362.5 471.3 367.8 467.4 377.0 469.8 371.7 473.9z" fill="#40bd72"/><path d="M386.2 472.3 391.5 468.1 400.8 470.4 395.5 474.7z" fill="#40bd72"/><path d="M486.6 465.8 491.7 460.3 501.1 462.2 496.1 467.8z" fill="#52c569"/><path d="M448.3 470.1 453.5 465.0 462.8 467.1 457.7 472.3z" fill="#48c16e"/><path d="M276.6 465.6 282.1 462.9 291.2 465.6 285.7 468.5z" fill="#50c46a"/><path d="M252.8 462.4 258.4 460.0 267.5 462.8 261.9 465.3z" fill="#58c765"/><path d="M300.4 468.4 305.8 465.3 315.0 468.0 309.5 471.2z" fill="#4ac16d"/><path d="M410.0 472.8 415.3 468.2 424.5 470.5 419.3 475.1z" fill="#42be71"/><path d="M229.0 458.6 234.6 456.5 243.7 459.4 238.1 461.7z" fill="#63cb5f"/><path d="M324.1 470.7 329.5 467.3 338.7 469.9 333.3 473.4z" fill="#44bf70"/><path d="M205.2 454.4 210.9 452.7 219.9 455.6 214.2 457.6z" fill="#70cf57"/><path d="M347.9 472.5 353.3 468.8 362.5 471.3 357.1 475.2z" fill="#42be71"/><path d="M472.2 469.2 477.3 463.9 486.6 465.8 481.6 471.3z" fill="#4ec36b"/><path d="M433.9 472.8 439.0 467.9 448.3 470.1 443.2 475.1z" fill="#44bf70"/><path d="M371.7 473.9 377.0 469.8 386.2 472.3 381.0 476.4z" fill="#40bd72"/><path d="M395.5 474.7 400.8 470.4 410.0 472.8 404.8 477.2z" fill="#40bd72"/><path d="M496.1 467.8 501.1 462.2 510.5 464.1 505.5 469.9z" fill="#56c667"/><path d="M457.7 472.3 462.8 467.1 472.2 469.2 467.1 474.5z" fill="#4ac16d"/><path d="M285.7 468.5 291.2 465.6 300.4 468.4 294.9 471.4z" fill="#50c46a"/><path d="M261.9 465.3 267.5 462.8 276.6 465.6 271.0 468.3z" fill="#58c765"/><path d="M309.5 471.2 315.0 468.0 324.1 470.7 318.7 474.1z" fill="#4ac16d"/><path d="M238.1 461.7 243.7 459.4 252.8 462.4 247.2 464.8z" fill="#63cb5f"/><path d="M419.3 475.1 424.5 470.5 433.9 472.8 428.7 477.6z" fill="#42be71"/><path d="M333.3 473.4 338.7 469.9 347.9 472.5 342.5 476.2z" fill="#46c06f"/><path d="M214.2 457.6 219.9 455.6 229.0 458.6 223.3 460.7z" fill="#6ece58"/><path d="M357.1 475.2 362.5 471.3 371.7 473.9 366.4 477.9z" fill="#42be71"/><path d="M481.6 471.3 486.6 465.8 496.1 467.8 491.0 473.5z" fill="#50c46a"/><path d="M443.2 475.1 448.3 470.1 457.7 472.3 452.5 477.4z" fill="#46c06f"/><path d="M381.0 476.4 386.2 472.3 395.5 474.7 390.2 479.1z" fill="#42be71"/><path d="M404.8 477.2 410.0 472.8 419.3 475.1 414.1 479.8z" fill="#42be71"/><path d="M467.1 474.5 472.2 469.2 481.6 471.3 476.5 476.8z" fill="#4cc26c"/><path d="M294.9 471.4 300.4 468.4 309.5 471.2 304.0 474.4z" fill="#50c46a"/><path d="M271.0 468.3 276.6 465.6 285.7 468.5 280.2 471.4z" fill="#56c667"/><path d="M318.7 474.1 324.1 470.7 333.3 473.4 327.9 476.9z" fill="#4ac16d"/><path d="M247.2 464.8 252.8 462.4 261.9 465.3 256.3 467.9z" fill="#60ca60"/><path d="M342.5 476.2 347.9 472.5 357.1 475.2 351.8 479.0z" fill="#46c06f"/><path d="M428.7 477.6 433.9 472.8 443.2 475.1 438.0 480.0z" fill="#44bf70"/><path d="M223.3 460.7 229.0 458.6 238.1 461.7 232.4 463.9z" fill="#6ccd5a"/><path d="M366.4 477.9 371.7 473.9 381.0 476.4 375.7 480.6z" fill="#42be71"/><path d="M491.0 473.5 496.1 467.8 505.5 469.9 500.4 475.6z" fill="#52c569"/><path d="M390.2 479.1 395.5 474.7 404.8 477.2 399.5 481.7z" fill="#42be71"/><path d="M452.5 477.4 457.7 472.3 467.1 474.5 461.9 479.8z" fill="#48c16e"/><path d="M414.1 479.8 419.3 475.1 428.7 477.6 423.5 482.3z" fill="#42be71"/><path d="M280.2 471.4 285.7 468.5 294.9 471.4 289.3 474.4z" fill="#56c667"/><path d="M304.0 474.4 309.5 471.2 318.7 474.1 313.2 477.3z" fill="#50c46a"/><path d="M256.3 467.9 261.9 465.3 271.0 468.3 265.4 471.0z" fill="#60ca60"/><path d="M327.9 476.9 333.3 473.4 342.5 476.2 337.1 479.8z" fill="#4ac16d"/><path d="M476.5 476.8 481.6 471.3 491.0 473.5 485.9 479.0z" fill="#4ec36b"/><path d="M232.4 463.9 238.1 461.7 247.2 464.8 241.5 467.1z" fill="#6ccd5a"/><path d="M351.8 479.0 357.1 475.2 366.4 477.9 361.0 481.8z" fill="#46c06f"/><path d="M438.0 480.0 443.2 475.1 452.5 477.4 447.4 482.5z" fill="#46c06f"/><path d="M375.7 480.6 381.0 476.4 390.2 479.1 384.9 483.3z" fill="#44bf70"/><path d="M399.5 481.7 404.8 477.2 414.1 479.8 408.9 484.3z" fill="#42be71"/><path d="M461.9 479.8 467.1 474.5 476.5 476.8 471.3 482.2z" fill="#4ac16d"/><path d="M423.5 482.3 428.7 477.6 438.0 480.0 432.8 484.9z" fill="#44bf70"/><path d="M289.3 474.4 294.9 471.4 304.0 474.4 298.5 477.5z" fill="#56c667"/><path d="M313.2 477.3 318.7 474.1 327.9 476.9 322.5 480.4z" fill="#4ec36b"/><path d="M265.4 471.0 271.0 468.3 280.2 471.4 274.6 474.1z" fill="#5ec962"/><path d="M337.1 479.8 342.5 476.2 351.8 479.0 346.4 482.7z" fill="#4ac16d"/><path d="M241.5 467.1 247.2 464.8 256.3 467.9 250.6 470.3z" fill="#69cd5b"/><path d="M485.9 479.0 491.0 473.5 500.4 475.6 495.3 481.4z" fill="#50c46a"/><path d="M361.0 481.8 366.4 477.9 375.7 480.6 370.3 484.6z" fill="#46c06f"/><path d="M447.4 482.5 452.5 477.4 461.9 479.8 456.8 485.0z" fill="#46c06f"/><path d="M384.9 483.3 390.2 479.1 399.5 481.7 394.3 486.1z" fill="#44bf70"/><path d="M408.9 484.3 414.1 479.8 423.5 482.3 418.2 487.0z" fill="#44bf70"/><path d="M471.3 482.2 476.5 476.8 485.9 479.0 480.8 484.6z" fill="#4ac16d"/><path d="M298.5 477.5 304.0 474.4 313.2 477.3 307.7 480.6z" fill="#54c568"/><path d="M322.5 480.4 327.9 476.9 337.1 479.8 331.7 483.4z" fill="#4ec36b"/><path d="M432.8 484.9 438.0 480.0 447.4 482.5 442.2 487.5z" fill="#44bf70"/><path d="M274.6 474.1 280.2 471.4 289.3 474.4 283.8 477.3z" fill="#5cc863"/><path d="M346.4 482.7 351.8 479.0 361.0 481.8 355.7 485.7z" fill="#48c16e"/><path d="M250.6 470.3 256.3 467.9 265.4 471.0 259.8 473.6z" fill="#67cc5c"/><path d="M370.3 484.6 375.7 480.6 384.9 483.3 379.6 487.5z" fill="#46c06f"/><path d="M456.8 485.0 461.9 479.8 471.3 482.2 466.2 487.5z" fill="#48c16e"/><path d="M394.3 486.1 399.5 481.7 408.9 484.3 403.6 488.9z" fill="#44bf70"/><path d="M418.2 487.0 423.5 482.3 432.8 484.9 427.6 489.8z" fill="#44bf70"/><path d="M480.8 484.6 485.9 479.0 495.3 481.4 490.2 487.0z" fill="#4cc26c"/><path d="M307.7 480.6 313.2 477.3 322.5 480.4 317.0 483.7z" fill="#54c568"/><path d="M283.8 477.3 289.3 474.4 298.5 477.5 293.0 480.5z" fill="#5cc863"/><path d="M331.7 483.4 337.1 479.8 346.4 482.7 341.0 486.4z" fill="#4ec36b"/><path d="M442.2 487.5 447.4 482.5 456.8 485.0 451.6 490.2z" fill="#46c06f"/><path d="M259.8 473.6 265.4 471.0 274.6 474.1 269.0 476.9z" fill="#67cc5c"/><path d="M355.7 485.7 361.0 481.8 370.3 484.6 365.0 488.7z" fill="#48c16e"/><path d="M379.6 487.5 384.9 483.3 394.3 486.1 389.0 490.4z" fill="#46c06f"/><path d="M466.2 487.5 471.3 482.2 480.8 484.6 475.6 490.1z" fill="#48c16e"/><path d="M403.6 488.9 408.9 484.3 418.2 487.0 413.0 491.7z" fill="#44bf70"/><path d="M427.6 489.8 432.8 484.9 442.2 487.5 437.0 492.5z" fill="#44bf70"/><path d="M317.0 483.7 322.5 480.4 331.7 483.4 326.2 486.9z" fill="#52c569"/><path d="M293.0 480.5 298.5 477.5 307.7 480.6 302.2 483.8z" fill="#5ac864"/><path d="M341.0 486.4 346.4 482.7 355.7 485.7 350.3 489.5z" fill="#4cc26c"/><path d="M269.0 476.9 274.6 474.1 283.8 477.3 278.2 480.2z" fill="#65cb5e"/><path d="M365.0 488.7 370.3 484.6 379.6 487.5 374.3 491.7z" fill="#48c16e"/><path d="M451.6 490.2 456.8 485.0 466.2 487.5 461.0 492.8z" fill="#46c06f"/><path d="M389.0 490.4 394.3 486.1 403.6 488.9 398.3 493.4z" fill="#46c06f"/><path d="M413.0 491.7 418.2 487.0 427.6 489.8 422.4 494.6z" fill="#44bf70"/><path d="M475.6 490.1 480.8 484.6 490.2 487.0 485.1 492.7z" fill="#4ac16d"/><path d="M437.0 492.5 442.2 487.5 451.6 490.2 446.4 495.3z" fill="#44bf70"/><path d="M326.2 486.9 331.7 483.4 341.0 486.4 335.5 490.1z" fill="#52c569"/><path d="M302.2 483.8 307.7 480.6 317.0 483.7 311.5 487.1z" fill="#58c765"/><path d="M350.3 489.5 355.7 485.7 365.0 488.7 359.6 492.7z" fill="#4cc26c"/><path d="M278.2 480.2 283.8 477.3 293.0 480.5 287.4 483.6z" fill="#63cb5f"/><path d="M374.3 491.7 379.6 487.5 389.0 490.4 383.6 494.7z" fill="#48c16e"/><path d="M461.0 492.8 466.2 487.5 475.6 490.1 470.5 495.5z" fill="#46c06f"/><path d="M398.3 493.4 403.6 488.9 413.0 491.7 407.7 496.3z" fill="#44bf70"/><path d="M422.4 494.6 427.6 489.8 437.0 492.5 431.8 497.5z" fill="#44bf70"/><path d="M446.4 495.3 451.6 490.2 461.0 492.8 455.9 498.1z" fill="#44bf70"/><path d="M311.5 487.1 317.0 483.7 326.2 486.9 320.8 490.4z" fill="#58c765"/><path d="M335.5 490.1 341.0 486.4 350.3 489.5 344.8 493.3z" fill="#50c46a"/><path d="M287.4 483.6 293.0 480.5 302.2 483.8 296.7 486.9z" fill="#60ca60"/><path d="M359.6 492.7 365.0 488.7 374.3 491.7 368.9 495.8z" fill="#4ac16d"/><path d="M383.6 494.7 389.0 490.4 398.3 493.4 393.0 497.8z" fill="#46c06f"/><path d="M470.5 495.5 475.6 490.1 485.1 492.7 480.0 498.3z" fill="#48c16e"/><path d="M407.7 496.3 413.0 491.7 422.4 494.6 417.1 499.3z" fill="#44bf70"/><path d="M431.8 497.5 437.0 492.5 446.4 495.3 441.2 500.4z" fill="#44bf70"/><path d="M455.9 498.1 461.0 492.8 470.5 495.5 465.3 500.9z" fill="#46c06f"/><path d="M320.8 490.4 326.2 486.9 335.5 490.1 330.1 493.7z" fill="#56c667"/><path d="M344.8 493.3 350.3 489.5 359.6 492.7 354.2 496.6z" fill="#4ec36b"/><path d="M296.7 486.9 302.2 483.8 311.5 487.1 306.0 490.4z" fill="#5ec962"/><path d="M368.9 495.8 374.3 491.7 383.6 494.7 378.3 499.0z" fill="#4ac16d"/><path d="M393.0 497.8 398.3 493.4 407.7 496.3 402.4 500.9z" fill="#46c06f"/><path d="M417.1 499.3 422.4 494.6 431.8 497.5 426.5 502.4z" fill="#44bf70"/><path d="M441.2 500.4 446.4 495.3 455.9 498.1 450.7 503.3z" fill="#44bf70"/><path d="M330.1 493.7 335.5 490.1 344.8 493.3 339.4 497.1z" fill="#54c568"/><path d="M354.2 496.6 359.6 492.7 368.9 495.8 363.5 499.9z" fill="#4ec36b"/><path d="M306.0 490.4 311.5 487.1 320.8 490.4 315.3 493.8z" fill="#5cc863"/><path d="M465.3 500.9 470.5 495.5 480.0 498.3 474.8 503.8z" fill="#46c06f"/><path d="M378.3 499.0 383.6 494.7 393.0 497.8 387.7 502.2z" fill="#48c16e"/><path d="M402.4 500.9 407.7 496.3 417.1 499.3 411.8 504.1z" fill="#46c06f"/><path d="M426.5 502.4 431.8 497.5 441.2 500.4 436.0 505.4z" fill="#44bf70"/><path d="M450.7 503.3 455.9 498.1 465.3 500.9 460.1 506.3z" fill="#44bf70"/><path d="M339.4 497.1 344.8 493.3 354.2 496.6 348.7 500.5z" fill="#52c569"/><path d="M315.3 493.8 320.8 490.4 330.1 493.7 324.6 497.3z" fill="#5ac864"/><path d="M363.5 499.9 368.9 495.8 378.3 499.0 372.9 503.2z" fill="#4cc26c"/><path d="M387.7 502.2 393.0 497.8 402.4 500.9 397.1 505.5z" fill="#48c16e"/><path d="M411.8 504.1 417.1 499.3 426.5 502.4 421.2 507.2z" fill="#44bf70"/><path d="M436.0 505.4 441.2 500.4 450.7 503.3 445.4 508.5z" fill="#44bf70"/><path d="M460.1 506.3 465.3 500.9 474.8 503.8 469.6 509.3z" fill="#44bf70"/><path d="M348.7 500.5 354.2 496.6 363.5 499.9 358.1 503.9z" fill="#50c46a"/><path d="M324.6 497.3 330.1 493.7 339.4 497.1 333.9 500.8z" fill="#58c765"/><path d="M372.9 503.2 378.3 499.0 387.7 502.2 382.3 506.6z" fill="#4ac16d"/><path d="M397.1 505.5 402.4 500.9 411.8 504.1 406.5 508.8z" fill="#46c06f"/><path d="M421.2 507.2 426.5 502.4 436.0 505.4 430.7 510.4z" fill="#44bf70"/><path d="M445.4 508.5 450.7 503.3 460.1 506.3 454.9 511.6z" fill="#42be71"/><path d="M358.1 503.9 363.5 499.9 372.9 503.2 367.5 507.4z" fill="#4ec36b"/><path d="M333.9 500.8 339.4 497.1 348.7 500.5 343.3 504.4z" fill="#56c667"/><path d="M382.3 506.6 387.7 502.2 397.1 505.5 391.7 510.0z" fill="#4ac16d"/><path d="M406.5 508.8 411.8 504.1 421.2 507.2 415.9 512.1z" fill="#44bf70"/><path d="M430.7 510.4 436.0 505.4 445.4 508.5 440.2 513.7z" fill="#42be71"/><path d="M454.9 511.6 460.1 506.3 469.6 509.3 464.4 514.8z" fill="#42be71"/><path d="M343.3 504.4 348.7 500.5 358.1 503.9 352.7 507.9z" fill="#54c568"/><path d="M367.5 507.4 372.9 503.2 382.3 506.6 376.9 510.9z" fill="#4cc26c"/><path d="M391.7 510.0 397.1 505.5 406.5 508.8 401.2 513.4z" fill="#48c16e"/><path d="M415.9 512.1 421.2 507.2 430.7 510.4 425.4 515.4z" fill="#44bf70"/><path d="M440.2 513.7 445.4 508.5 454.9 511.6 449.7 516.9z" fill="#42be71"/><path d="M352.7 507.9 358.1 503.9 367.5 507.4 362.1 511.5z" fill="#52c569"/><path d="M376.9 510.9 382.3 506.6 391.7 510.0 386.3 514.4z" fill="#4ac16d"/><path d="M401.2 513.4 406.5 508.8 415.9 512.1 410.6 516.8z" fill="#46c06f"/><path d="M425.4 515.4 430.7 510.4 440.2 513.7 434.9 518.8z" fill="#42be71"/><path d="M449.7 516.9 454.9 511.6 464.4 514.8 459.2 520.2z" fill="#40bd72"/><path d="M362.1 511.5 367.5 507.4 376.9 510.9 371.5 515.2z" fill="#50c46a"/><path d="M386.3 514.4 391.7 510.0 401.2 513.4 395.8 518.0z" fill="#48c16e"/><path d="M410.6 516.8 415.9 512.1 425.4 515.4 420.1 520.3z" fill="#44bf70"/><path d="M434.9 518.8 440.2 513.7 449.7 516.9 444.4 522.2z" fill="#40bd72"/><path d="M371.5 515.2 376.9 510.9 386.3 514.4 380.9 518.8z" fill="#4cc26c"/><path d="M395.8 518.0 401.2 513.4 410.6 516.8 405.3 521.6z" fill="#46c06f"/><path d="M420.1 520.3 425.4 515.4 434.9 518.8 429.6 523.8z" fill="#42be71"/><path d="M444.4 522.2 449.7 516.9 459.2 520.2 454.0 525.6z" fill="#3fbc73"/><path d="M380.9 518.8 386.3 514.4 395.8 518.0 390.4 522.6z" fill="#4ac16d"/><path d="M405.3 521.6 410.6 516.8 420.1 520.3 414.8 525.2z" fill="#44bf70"/><path d="M429.6 523.8 434.9 518.8 444.4 522.2 439.1 527.4z" fill="#40bd72"/><path d="M390.4 522.6 395.8 518.0 405.3 521.6 399.9 526.3z" fill="#48c16e"/><path d="M414.8 525.2 420.1 520.3 429.6 523.8 424.3 528.9z" fill="#42be71"/><path d="M439.1 527.4 444.4 522.2 454.0 525.6 448.7 531.0z" fill="#3fbc73"/><path d="M399.9 526.3 405.3 521.6 414.8 525.2 409.4 530.0z" fill="#44bf70"/><path d="M424.3 528.9 429.6 523.8 439.1 527.4 433.8 532.6z" fill="#40bd72"/><path d="M409.4 530.0 414.8 525.2 424.3 528.9 419.0 533.8z" fill="#42be71"/><path d="M433.8 532.6 439.1 527.4 448.7 531.0 443.4 536.3z" fill="#3dbc74"/><path d="M419.0 533.8 424.3 528.9 433.8 532.6 428.5 537.7z" fill="#40bd72"/><path d="M428.5 537.7 433.8 532.6 443.4 536.3 438.1 541.5z" fill="#3dbc74"/></g></g> <g> <g transform="translate(0.000 0.912)"> <text textLength="187.68" lengthAdjust="spacingAndGlyphs" dx="0.073" style="font-size: 11.880px; font-family: 'Liberation Sans'" transform="translate(76.486637 14.7269)">Response Surface: vegetation_pct</text> <text textLength="136.51" lengthAdjust="spacingAndGlyphs" dx="0.200" style="font-size: 11.880px; font-family: 'Liberation Sans'" transform="translate(101.601012 27.8304)">mulch_cm vs seed_g_m2</text> </g> </g> <g> <g> <path d="M 386.352 280.224  L 403.272 280.224  L 403.272 113.808  L 386.352 113.808  z " style="fill: #ffffff"/> </g> <defs><linearGradient id="cbg" x1="0" y1="0" x2="0" y2="1"><stop offset="0.0000" stop-color="#feeb45"/><stop offset="0.0312" stop-color="#efe93d"/><stop offset="0.0625" stop-color="#dee73c"/><stop offset="0.0938" stop-color="#cbe444"/><stop offset="0.1250" stop-color="#b9e14f"/><stop offset="0.1562" stop-color="#a7de5b"/><stop offset="0.1875" stop-color="#96da66"/><stop offset="0.2188" stop-color="#86d670"/><stop offset="0.2500" stop-color="#76d179"/><stop offset="0.2812" stop-color="#68cc81"/><stop offset="0.3125" stop-color="#5cc688"/><stop offset="0.3438" stop-color="#51c18e"/><stop offset="0.3750" stop-color="#48ba93"/><stop offset="0.4062" stop-color="#43b497"/><stop offset="0.4375" stop-color="#40ae9a"/><stop offset="0.4688" stop-color="#40a89c"/><stop offset="0.5000" stop-color="#42a19e"/><stop offset="0.5312" stop-color="#449b9f"/><stop offset="0.5625" stop-color="#47949f"/><stop offset="0.5938" stop-color="#498e9f"/><stop offset="0.6250" stop-color="#4c889f"/><stop offset="0.6562" stop-color="#4e819f"/><stop offset="0.6875" stop-color="#517a9e"/><stop offset="0.7188" stop-color="#55739e"/><stop offset="0.7500" stop-color="#586c9d"/><stop offset="0.7812" stop-color="#5b659b"/><stop offset="0.8125" stop-color="#5e5d98"/><stop offset="0.8438" stop-color="#615594"/><stop offset="0.8750" stop-color="#634c8f"/><stop offset="0.9062" stop-color="#644489"/><stop offset="0.9375" stop-color="#633b81"/><stop offset="0.9688" stop-color="#623178"/><stop offset="1.0000" stop-color="#60276e"/></linearGradient></defs><rect x="386.400" y="113.760" width="16.800" height="166.560" fill="url(#cbg)"/> <g id="matplotlib.axis_1"/> <g id="matplotlib.axis_2"> <g> <g> <defs> <path id="m33c4ce201d" d="M 0 0  L 3.5 0  " style="stroke: #000000; stroke-width: 0.8"/> </defs> <g> <use href="#m33c4ce201d" x="403.272" y="274.79898" style="stroke: #000000; stroke-width: 0.8"/> </g> </g> <g transform="translate(0.000 0.456)"> <text textLength="12.14" lengthAdjust="spacingAndGlyphs" dx="0.346" style="font-size: 10.800px; font-family: 'Liberation Sans'; text-anchor: start" x="410.272" y="278.598199" transform="rotate(-0 410.272 278.598199)">30</text> </g> </g> <g> <g> <g> <use href="#m33c4ce201d" x="403.272" y="246.690069" style="stroke: #000000; stroke-width: 0.8"/> </g> </g> <g transform="translate(0.000 0.456)"> <text textLength="11.95" lengthAdjust="spacingAndGlyphs" dx="0.353" style="font-size: 10.800px; font-family: 'Liberation Sans'; text-anchor: start" x="410.272" y="250.489287" transform="rotate(-0 410.272 250.489287)">35</text> </g> </g> <g> <g> <g> <use href="#m33c4ce201d" x="403.272" y="218.581157" style="stroke: #000000; stroke-width: 0.8"/> </g> </g> <g transform="translate(0.000 0.456)"> <text textLength="12.26" lengthAdjust="spacingAndGlyphs" dx="0.235" style="font-size: 10.800px; font-family: 'Liberation Sans'; text-anchor: start" x="410.272" y="222.380376" transform="rotate(-0 410.272 222.380376)">40</text> </g> </g> <g> <g> <g> <use href="#m33c4ce201d" x="403.272" y="190.472245" style="stroke: #000000; stroke-width: 0.8"/> </g> </g> <g transform="translate(0.000 0.456)"> <text textLength="12.07" lengthAdjust="spacingAndGlyphs" dx="0.239" style="font-size: 10.800px; font-family: 'Liberation Sans'; text-anchor: start" x="410.272" y="194.271464" transform="rotate(-0 410.272 194.271464)">45</text> </g> </g> <g> <g> <g> <use href="#m33c4ce201d" x="403.272" y="162.363334" style="stroke: #000000; stroke-width: 0.8"/> </g> </g> <g transform="translate(0.000 0.456)"> <text textLength="12.15" lengthAdjust="spacingAndGlyphs" dx="0.334" style="font-size: 10.800px; font-family: 'Liberation Sans'; text-anchor: start" x="410.272" y="166.162553" transform="rotate(-0 410.272 166.162553)">50</text> </g> </g> <g> <g> <g> <use href="#m33c4ce201d" x="403.272" y="134.254422" style="stroke: #000000; stroke-width: 0.8"/> </g> </g> <g transform="translate(0.000 0.456)"> <text textLength="11.96" lengthAdjust="spacingAndGlyphs" dx="0.341" style="font-size: 10.800px; font-family: 'Liberation Sans'; text-anchor: start" x="410.272" y="138.053641" transform="rotate(-0 410.272 138.053641)">55</text> </g> </g> </g> <g/> <g> <path d="M 386.352 280.224  L 394.812 280.224  L 403.272 280.224  L 403.272 113.808  L 394.812 113.808  L 386.352 113.808  L 386.352 280.224  z " style="fill: none; stroke: #000000; stroke-width: 0.8; stroke-linejoin: miter; stroke-linecap: square"/> </g> </g> </g> </svg></body></html>
